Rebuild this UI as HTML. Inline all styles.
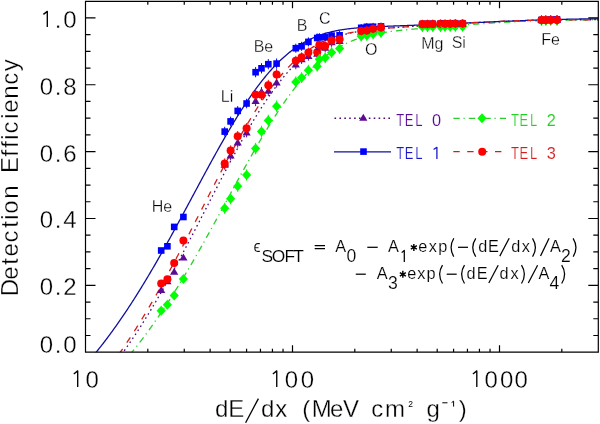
<!DOCTYPE html><html><head><meta charset="utf-8"><style>html,body{margin:0;padding:0;background:#fff;}svg{display:block;will-change:transform}</style></head><body><svg width="600" height="424" viewBox="0 0 600 424"><rect width="600" height="424" fill="#fff"/><clipPath id="cp"><rect x="85.5" y="1.3" width="512.8" height="350.9"/></clipPath><g clip-path="url(#cp)" fill="none" stroke-width="1.3"><path d="M121.46,354.66 L122.31,353.47 L123.17,352.28 L124.02,351.07 L124.88,349.86 L125.74,348.64 L126.59,347.42 L127.45,346.19 L128.30,344.95 L129.16,343.70 L130.02,342.45 L130.87,341.19 L131.73,339.93 L132.59,338.65 L133.44,337.37 L134.30,336.09 L135.15,334.79 L136.01,333.49 L136.87,332.19 L137.72,330.87 L138.58,329.55 L139.43,328.23 L140.29,326.89 L141.15,325.55 L142.00,324.20 L142.86,322.85 L143.71,321.49 L144.57,320.12 L145.43,318.75 L146.28,317.37 L147.14,315.98 L147.99,314.59 L148.85,313.19 L149.71,311.79 L150.56,310.37 L151.42,308.96 L152.28,307.53 L153.13,306.10 L153.99,304.66 L154.84,303.22 L155.70,301.77 L156.56,300.32 L157.41,298.86 L158.27,297.39 L159.12,295.92 L159.98,294.44 L160.84,292.95 L161.69,291.46 L162.55,289.97 L163.40,288.47 L164.26,286.96 L165.12,285.45 L165.97,283.93 L166.83,282.41 L167.68,280.88 L168.54,279.34 L169.40,277.81 L170.25,276.26 L171.11,274.71 L171.97,273.16 L172.82,271.60 L173.68,270.04 L174.53,268.47 L175.39,266.90 L176.25,265.32 L177.10,263.74 L177.96,262.16 L178.81,260.57 L179.67,258.97 L180.53,257.38 L181.38,255.78 L182.24,254.17 L183.09,252.56 L183.95,250.95 L184.81,249.33 L185.66,247.71 L186.52,246.09 L187.38,244.47 L188.23,242.84 L189.09,241.21 L189.94,239.57 L190.80,237.93 L191.66,236.29 L192.51,234.65 L193.37,233.01 L194.22,231.36 L195.08,229.71 L195.94,228.06 L196.79,226.41 L197.65,224.75 L198.50,223.10 L199.36,221.44 L200.22,219.78 L201.07,218.12 L201.93,216.46 L202.78,214.80 L203.64,213.13 L204.50,211.47 L205.35,209.81 L206.21,208.14 L207.07,206.48 L207.92,204.81 L208.78,203.15 L209.63,201.48 L210.49,199.82 L211.35,198.16 L212.20,196.49 L213.06,194.83 L213.91,193.17 L214.77,191.51 L215.63,189.86 L216.48,188.20 L217.34,186.55 L218.19,184.89 L219.05,183.24 L219.91,181.59 L220.76,179.95 L221.62,178.30 L222.47,176.66 L223.33,175.02 L224.19,173.39 L225.04,171.76 L225.90,170.13 L226.76,168.50 L227.61,166.88 L228.47,165.27 L229.32,163.65 L230.18,162.04 L231.04,160.44 L231.89,158.84 L232.75,157.24 L233.60,155.65 L234.46,154.07 L235.32,152.49 L236.17,150.91 L237.03,149.34 L237.88,147.78 L238.74,146.22 L239.60,144.67 L240.45,143.13 L241.31,141.59 L242.17,140.06 L243.02,138.53 L243.88,137.02 L244.73,135.51 L245.59,134.00 L246.45,132.51 L247.30,131.02 L248.16,129.54 L249.01,128.07 L249.87,126.60 L250.73,125.15 L251.58,123.70 L252.44,122.26 L253.29,120.83 L254.15,119.41 L255.01,118.00 L255.86,116.60 L256.72,115.20 L257.57,113.82 L258.43,112.45 L259.29,111.08 L260.14,109.73 L261.00,108.39 L261.86,107.05 L262.71,105.73 L263.57,104.42 L264.42,103.12 L265.28,101.83 L266.14,100.55 L266.99,99.28 L267.85,98.02 L268.70,96.77 L269.56,95.54 L270.42,94.31 L271.27,93.10 L272.13,91.90 L272.98,90.71 L273.84,89.54 L274.70,88.37 L275.55,87.22 L276.41,86.08 L277.26,84.95 L278.12,83.83 L278.98,82.73 L279.83,81.64 L280.69,80.56 L281.55,79.50 L282.40,78.44 L283.26,77.40 L284.11,76.37 L284.97,75.36 L285.83,74.36 L286.68,73.37 L287.54,72.39 L288.39,71.43 L289.25,70.48 L290.11,69.54 L290.96,68.62 L291.82,67.71 L292.67,66.81 L293.53,65.92 L294.39,65.05 L295.24,64.19 L296.10,63.34 L296.96,62.51 L297.81,61.69 L298.67,60.88 L299.52,60.09 L300.38,59.31 L301.24,58.54 L302.09,57.78 L302.95,57.04 L303.80,56.31 L304.66,55.59 L305.52,54.89 L306.37,54.20 L307.23,53.52 L308.08,52.85 L308.94,52.20 L309.80,51.55 L310.65,50.92 L311.51,50.31 L312.36,49.70 L313.22,49.11 L314.08,48.52 L314.93,47.95 L315.79,47.39 L316.65,46.85 L317.50,46.31 L318.36,45.79 L319.21,45.27 L320.07,44.77 L320.93,44.28 L321.78,43.80 L322.64,43.33 L323.49,42.87 L324.35,42.42 L325.21,41.99 L326.06,41.56 L326.92,41.14 L327.77,40.73 L328.63,40.34 L329.49,39.95 L330.34,39.57 L331.20,39.20 L332.05,38.84 L332.91,38.49 L333.77,38.15 L334.62,37.81 L335.48,37.49 L336.34,37.17 L337.19,36.86 L338.05,36.56 L338.90,36.27 L339.76,35.99 L340.62,35.71 L341.47,35.44 L342.33,35.18 L343.18,34.93 L344.04,34.68 L344.90,34.44 L345.75,34.20 L346.61,33.98 L347.46,33.76 L348.32,33.54 L349.18,33.33 L350.03,33.13 L350.89,32.93 L351.75,32.74 L352.60,32.56 L353.46,32.38 L354.31,32.20 L355.17,32.03 L356.03,31.87 L356.88,31.71 L357.74,31.55 L358.59,31.40 L359.45,31.25 L360.31,31.11 L361.16,30.97 L362.02,30.84 L362.87,30.70 L363.73,30.58 L364.59,30.45 L365.44,30.33 L366.30,30.22 L367.15,30.10 L368.01,29.99 L368.87,29.88 L369.72,29.78 L370.58,29.68 L371.44,29.58 L372.29,29.48 L373.15,29.38 L374.00,29.29 L374.86,29.20 L375.72,29.11 L376.57,29.03 L377.43,28.94 L378.28,28.86 L379.14,28.78 L380.00,28.70 L380.85,28.62 L381.71,28.55 L382.56,28.47 L383.42,28.40 L384.28,28.33 L385.13,28.26 L385.99,28.19 L386.84,28.12 L387.70,28.05 L388.56,27.99 L389.41,27.92 L390.27,27.86 L391.13,27.79 L391.98,27.73 L392.84,27.67 L393.69,27.61 L394.55,27.55 L395.41,27.49 L396.26,27.43 L397.12,27.37 L397.97,27.31 L398.83,27.25 L399.69,27.19 L400.54,27.14 L401.40,27.08 L402.25,27.02 L403.11,26.97 L403.97,26.91 L404.82,26.86 L405.68,26.80 L406.54,26.75 L407.39,26.69 L408.25,26.64 L409.10,26.58 L409.96,26.53 L410.82,26.47 L411.67,26.42 L412.53,26.36 L413.38,26.31 L414.24,26.26 L415.10,26.20 L415.95,26.15 L416.81,26.10 L417.66,26.04 L418.52,25.99 L419.38,25.93 L420.23,25.88 L421.09,25.83 L421.94,25.77 L422.80,25.72 L423.66,25.67 L424.51,25.61 L425.37,25.56 L426.23,25.51 L427.08,25.46 L427.94,25.40 L428.79,25.35 L429.65,25.30 L430.51,25.24 L431.36,25.19 L432.22,25.14 L433.07,25.08 L433.93,25.03 L434.79,24.98 L435.64,24.93 L436.50,24.87 L437.35,24.82 L438.21,24.77 L439.07,24.71 L439.92,24.66 L440.78,24.61 L441.63,24.56 L442.49,24.50 L443.35,24.45 L444.20,24.40 L445.06,24.35 L445.92,24.30 L446.77,24.24 L447.63,24.19 L448.48,24.14 L449.34,24.09 L450.20,24.04 L451.05,23.99 L451.91,23.93 L452.76,23.88 L453.62,23.83 L454.48,23.78 L455.33,23.73 L456.19,23.68 L457.04,23.63 L457.90,23.58 L458.76,23.53 L459.61,23.48 L460.47,23.43 L461.33,23.38 L462.18,23.33 L463.04,23.28 L463.89,23.23 L464.75,23.18 L465.61,23.14 L466.46,23.09 L467.32,23.04 L468.17,22.99 L469.03,22.94 L469.89,22.90 L470.74,22.85 L471.60,22.80 L472.45,22.76 L473.31,22.71 L474.17,22.66 L475.02,22.62 L475.88,22.57 L476.73,22.53 L477.59,22.48 L478.45,22.44 L479.30,22.39 L480.16,22.35 L481.02,22.31 L481.87,22.26 L482.73,22.22 L483.58,22.18 L484.44,22.13 L485.30,22.09 L486.15,22.05 L487.01,22.01 L487.86,21.97 L488.72,21.93 L489.58,21.89 L490.43,21.85 L491.29,21.81 L492.14,21.77 L493.00,21.73 L493.86,21.69 L494.71,21.65 L495.57,21.61 L496.42,21.58 L497.28,21.54 L498.14,21.50 L498.99,21.47 L499.85,21.43 L500.71,21.39 L501.56,21.36 L502.42,21.32 L503.27,21.29 L504.13,21.26 L504.99,21.22 L505.84,21.19 L506.70,21.16 L507.55,21.12 L508.41,21.09 L509.27,21.06 L510.12,21.03 L510.98,21.00 L511.83,20.97 L512.69,20.94 L513.55,20.91 L514.40,20.88 L515.26,20.85 L516.12,20.82 L516.97,20.80 L517.83,20.77 L518.68,20.74 L519.54,20.72 L520.40,20.69 L521.25,20.66 L522.11,20.64 L522.96,20.61 L523.82,20.59 L524.68,20.57 L525.53,20.54 L526.39,20.52 L527.24,20.50 L528.10,20.47 L528.96,20.45 L529.81,20.43 L530.67,20.41 L531.52,20.39 L532.38,20.37 L533.24,20.35 L534.09,20.33 L534.95,20.31 L535.81,20.29 L536.66,20.27 L537.52,20.26 L538.37,20.24 L539.23,20.22 L540.09,20.20 L540.94,20.19 L541.80,20.17 L542.65,20.16 L543.51,20.14 L544.37,20.13 L545.22,20.11 L546.08,20.10 L546.93,20.08 L547.79,20.07 L548.65,20.06 L549.50,20.04 L550.36,20.03 L551.21,20.02 L552.07,20.01 L552.93,20.00 L553.78,19.99 L554.64,19.97 L555.50,19.96 L556.35,19.95 L557.21,19.94 L558.06,19.93 L558.92,19.92 L559.78,19.92 L560.63,19.91 L561.49,19.90 L562.34,19.89 L563.20,19.88 L564.06,19.87 L564.91,19.87 L565.77,19.86 L566.62,19.85 L567.48,19.84 L568.34,19.84 L569.19,19.83 L570.05,19.83 L570.91,19.82 L571.76,19.81 L572.62,19.81 L573.47,19.80 L574.33,19.80 L575.19,19.79 L576.04,19.79 L576.90,19.78 L577.75,19.78 L578.61,19.77 L579.47,19.77 L580.32,19.77 L581.18,19.76 L582.03,19.76 L582.89,19.76 L583.75,19.75 L584.60,19.75 L585.46,19.75 L586.31,19.74 L587.17,19.74 L588.03,19.74 L588.88,19.74 L589.74,19.73 L590.60,19.73 L591.45,19.73 L592.31,19.73 L593.16,19.72 L594.02,19.72 L594.88,19.72 L595.73,19.72 L596.59,19.72 L597.44,19.72 L598.30,19.71" stroke="#4a0a7a" stroke-dasharray="1.6,3.2"/><path d="M130.02,354.54 L130.87,353.50 L131.73,352.46 L132.59,351.41 L133.44,350.35 L134.30,349.28 L135.15,348.21 L136.01,347.14 L136.87,346.05 L137.72,344.96 L138.58,343.86 L139.43,342.76 L140.29,341.65 L141.15,340.53 L142.00,339.41 L142.86,338.28 L143.71,337.14 L144.57,336.00 L145.43,334.85 L146.28,333.69 L147.14,332.53 L147.99,331.36 L148.85,330.19 L149.71,329.00 L150.56,327.82 L151.42,326.62 L152.28,325.42 L153.13,324.21 L153.99,323.00 L154.84,321.77 L155.70,320.55 L156.56,319.31 L157.41,318.07 L158.27,316.83 L159.12,315.57 L159.98,314.31 L160.84,313.05 L161.69,311.77 L162.55,310.50 L163.40,309.21 L164.26,307.92 L165.12,306.62 L165.97,305.32 L166.83,304.01 L167.68,302.70 L168.54,301.37 L169.40,300.05 L170.25,298.71 L171.11,297.37 L171.97,296.03 L172.82,294.68 L173.68,293.32 L174.53,291.96 L175.39,290.59 L176.25,289.21 L177.10,287.83 L177.96,286.45 L178.81,285.06 L179.67,283.66 L180.53,282.26 L181.38,280.85 L182.24,279.44 L183.09,278.02 L183.95,276.60 L184.81,275.17 L185.66,273.73 L186.52,272.29 L187.38,270.85 L188.23,269.40 L189.09,267.95 L189.94,266.49 L190.80,265.03 L191.66,263.56 L192.51,262.09 L193.37,260.61 L194.22,259.13 L195.08,257.64 L195.94,256.16 L196.79,254.66 L197.65,253.16 L198.50,251.66 L199.36,250.16 L200.22,248.65 L201.07,247.13 L201.93,245.62 L202.78,244.10 L203.64,242.57 L204.50,241.04 L205.35,239.51 L206.21,237.98 L207.07,236.44 L207.92,234.90 L208.78,233.36 L209.63,231.82 L210.49,230.27 L211.35,228.72 L212.20,227.17 L213.06,225.61 L213.91,224.05 L214.77,222.50 L215.63,220.93 L216.48,219.37 L217.34,217.81 L218.19,216.24 L219.05,214.67 L219.91,213.11 L220.76,211.54 L221.62,209.96 L222.47,208.39 L223.33,206.82 L224.19,205.25 L225.04,203.67 L225.90,202.10 L226.76,200.52 L227.61,198.95 L228.47,197.38 L229.32,195.80 L230.18,194.23 L231.04,192.65 L231.89,191.08 L232.75,189.51 L233.60,187.94 L234.46,186.37 L235.32,184.80 L236.17,183.23 L237.03,181.67 L237.88,180.10 L238.74,178.54 L239.60,176.98 L240.45,175.42 L241.31,173.87 L242.17,172.31 L243.02,170.76 L243.88,169.22 L244.73,167.67 L245.59,166.13 L246.45,164.59 L247.30,163.06 L248.16,161.52 L249.01,160.00 L249.87,158.47 L250.73,156.95 L251.58,155.44 L252.44,153.93 L253.29,152.42 L254.15,150.92 L255.01,149.42 L255.86,147.93 L256.72,146.44 L257.57,144.96 L258.43,143.49 L259.29,142.02 L260.14,140.55 L261.00,139.09 L261.86,137.64 L262.71,136.20 L263.57,134.76 L264.42,133.33 L265.28,131.90 L266.14,130.48 L266.99,129.07 L267.85,127.67 L268.70,126.27 L269.56,124.88 L270.42,123.50 L271.27,122.13 L272.13,120.77 L272.98,119.41 L273.84,118.06 L274.70,116.72 L275.55,115.39 L276.41,114.07 L277.26,112.75 L278.12,111.45 L278.98,110.16 L279.83,108.87 L280.69,107.59 L281.55,106.33 L282.40,105.07 L283.26,103.82 L284.11,102.59 L284.97,101.36 L285.83,100.14 L286.68,98.94 L287.54,97.74 L288.39,96.56 L289.25,95.38 L290.11,94.22 L290.96,93.06 L291.82,91.92 L292.67,90.79 L293.53,89.67 L294.39,88.56 L295.24,87.46 L296.10,86.38 L296.96,85.30 L297.81,84.24 L298.67,83.19 L299.52,82.15 L300.38,81.12 L301.24,80.11 L302.09,79.10 L302.95,78.11 L303.80,77.13 L304.66,76.16 L305.52,75.20 L306.37,74.26 L307.23,73.33 L308.08,72.41 L308.94,71.50 L309.80,70.60 L310.65,69.72 L311.51,68.85 L312.36,67.99 L313.22,67.14 L314.08,66.31 L314.93,65.49 L315.79,64.68 L316.65,63.88 L317.50,63.09 L318.36,62.32 L319.21,61.56 L320.07,60.81 L320.93,60.07 L321.78,59.34 L322.64,58.63 L323.49,57.93 L324.35,57.24 L325.21,56.56 L326.06,55.89 L326.92,55.24 L327.77,54.60 L328.63,53.97 L329.49,53.35 L330.34,52.74 L331.20,52.14 L332.05,51.56 L332.91,50.98 L333.77,50.42 L334.62,49.87 L335.48,49.33 L336.34,48.80 L337.19,48.28 L338.05,47.77 L338.90,47.27 L339.76,46.78 L340.62,46.30 L341.47,45.84 L342.33,45.38 L343.18,44.93 L344.04,44.49 L344.90,44.07 L345.75,43.65 L346.61,43.24 L347.46,42.84 L348.32,42.45 L349.18,42.07 L350.03,41.69 L350.89,41.33 L351.75,40.98 L352.60,40.63 L353.46,40.29 L354.31,39.96 L355.17,39.64 L356.03,39.32 L356.88,39.02 L357.74,38.72 L358.59,38.43 L359.45,38.14 L360.31,37.87 L361.16,37.60 L362.02,37.33 L362.87,37.08 L363.73,36.83 L364.59,36.58 L365.44,36.35 L366.30,36.12 L367.15,35.89 L368.01,35.67 L368.87,35.46 L369.72,35.25 L370.58,35.05 L371.44,34.85 L372.29,34.66 L373.15,34.47 L374.00,34.29 L374.86,34.11 L375.72,33.94 L376.57,33.77 L377.43,33.61 L378.28,33.45 L379.14,33.29 L380.00,33.14 L380.85,32.99 L381.71,32.84 L382.56,32.70 L383.42,32.56 L384.28,32.43 L385.13,32.30 L385.99,32.17 L386.84,32.05 L387.70,31.92 L388.56,31.80 L389.41,31.69 L390.27,31.57 L391.13,31.46 L391.98,31.35 L392.84,31.24 L393.69,31.14 L394.55,31.03 L395.41,30.93 L396.26,30.83 L397.12,30.73 L397.97,30.64 L398.83,30.54 L399.69,30.45 L400.54,30.36 L401.40,30.27 L402.25,30.18 L403.11,30.09 L403.97,30.01 L404.82,29.92 L405.68,29.84 L406.54,29.75 L407.39,29.67 L408.25,29.59 L409.10,29.51 L409.96,29.43 L410.82,29.35 L411.67,29.27 L412.53,29.20 L413.38,29.12 L414.24,29.04 L415.10,28.97 L415.95,28.89 L416.81,28.82 L417.66,28.75 L418.52,28.67 L419.38,28.60 L420.23,28.53 L421.09,28.45 L421.94,28.38 L422.80,28.31 L423.66,28.24 L424.51,28.17 L425.37,28.10 L426.23,28.03 L427.08,27.95 L427.94,27.88 L428.79,27.81 L429.65,27.74 L430.51,27.67 L431.36,27.60 L432.22,27.53 L433.07,27.46 L433.93,27.40 L434.79,27.33 L435.64,27.26 L436.50,27.19 L437.35,27.12 L438.21,27.05 L439.07,26.98 L439.92,26.91 L440.78,26.84 L441.63,26.78 L442.49,26.71 L443.35,26.64 L444.20,26.57 L445.06,26.50 L445.92,26.43 L446.77,26.37 L447.63,26.30 L448.48,26.23 L449.34,26.16 L450.20,26.09 L451.05,26.03 L451.91,25.96 L452.76,25.89 L453.62,25.83 L454.48,25.76 L455.33,25.69 L456.19,25.62 L457.04,25.56 L457.90,25.49 L458.76,25.42 L459.61,25.36 L460.47,25.29 L461.33,25.23 L462.18,25.16 L463.04,25.10 L463.89,25.03 L464.75,24.96 L465.61,24.90 L466.46,24.83 L467.32,24.77 L468.17,24.71 L469.03,24.64 L469.89,24.58 L470.74,24.51 L471.60,24.45 L472.45,24.39 L473.31,24.32 L474.17,24.26 L475.02,24.20 L475.88,24.14 L476.73,24.08 L477.59,24.01 L478.45,23.95 L479.30,23.89 L480.16,23.83 L481.02,23.77 L481.87,23.71 L482.73,23.65 L483.58,23.59 L484.44,23.53 L485.30,23.47 L486.15,23.42 L487.01,23.36 L487.86,23.30 L488.72,23.24 L489.58,23.19 L490.43,23.13 L491.29,23.07 L492.14,23.02 L493.00,22.96 L493.86,22.91 L494.71,22.85 L495.57,22.80 L496.42,22.75 L497.28,22.69 L498.14,22.64 L498.99,22.59 L499.85,22.54 L500.71,22.49 L501.56,22.44 L502.42,22.39 L503.27,22.34 L504.13,22.29 L504.99,22.24 L505.84,22.19 L506.70,22.14 L507.55,22.09 L508.41,22.05 L509.27,22.00 L510.12,21.95 L510.98,21.91 L511.83,21.86 L512.69,21.82 L513.55,21.78 L514.40,21.73 L515.26,21.69 L516.12,21.65 L516.97,21.61 L517.83,21.56 L518.68,21.52 L519.54,21.48 L520.40,21.44 L521.25,21.41 L522.11,21.37 L522.96,21.33 L523.82,21.29 L524.68,21.25 L525.53,21.22 L526.39,21.18 L527.24,21.15 L528.10,21.11 L528.96,21.08 L529.81,21.04 L530.67,21.01 L531.52,20.98 L532.38,20.95 L533.24,20.91 L534.09,20.88 L534.95,20.85 L535.81,20.82 L536.66,20.79 L537.52,20.76 L538.37,20.74 L539.23,20.71 L540.09,20.68 L540.94,20.65 L541.80,20.63 L542.65,20.60 L543.51,20.58 L544.37,20.55 L545.22,20.53 L546.08,20.50 L546.93,20.48 L547.79,20.46 L548.65,20.44 L549.50,20.42 L550.36,20.39 L551.21,20.37 L552.07,20.35 L552.93,20.33 L553.78,20.31 L554.64,20.29 L555.50,20.28 L556.35,20.26 L557.21,20.24 L558.06,20.22 L558.92,20.21 L559.78,20.19 L560.63,20.17 L561.49,20.16 L562.34,20.14 L563.20,20.13 L564.06,20.12 L564.91,20.10 L565.77,20.09 L566.62,20.08 L567.48,20.06 L568.34,20.05 L569.19,20.04 L570.05,20.03 L570.91,20.02 L571.76,20.00 L572.62,19.99 L573.47,19.98 L574.33,19.97 L575.19,19.96 L576.04,19.96 L576.90,19.95 L577.75,19.94 L578.61,19.93 L579.47,19.92 L580.32,19.91 L581.18,19.91 L582.03,19.90 L582.89,19.89 L583.75,19.88 L584.60,19.88 L585.46,19.87 L586.31,19.87 L587.17,19.86 L588.03,19.85 L588.88,19.85 L589.74,19.84 L590.60,19.84 L591.45,19.83 L592.31,19.83 L593.16,19.83 L594.02,19.82 L594.88,19.82 L595.73,19.81 L596.59,19.81 L597.44,19.81 L598.30,19.80" stroke="#2cd02c" stroke-dasharray="6.4,3.8,1.2,4.1"/><path d="M94.06,354.80 L94.92,353.76 L95.77,352.71 L96.63,351.66 L97.49,350.59 L98.34,349.53 L99.20,348.45 L100.05,347.37 L100.91,346.29 L101.77,345.19 L102.62,344.09 L103.48,342.98 L104.33,341.87 L105.19,340.75 L106.05,339.62 L106.90,338.49 L107.76,337.35 L108.61,336.20 L109.47,335.05 L110.33,333.89 L111.18,332.72 L112.04,331.55 L112.89,330.37 L113.75,329.18 L114.61,327.99 L115.46,326.79 L116.32,325.58 L117.18,324.37 L118.03,323.15 L118.89,321.92 L119.74,320.69 L120.60,319.45 L121.46,318.20 L122.31,316.95 L123.17,315.69 L124.02,314.43 L124.88,313.15 L125.74,311.88 L126.59,310.59 L127.45,309.30 L128.30,308.00 L129.16,306.70 L130.02,305.39 L130.87,304.07 L131.73,302.75 L132.59,301.42 L133.44,300.09 L134.30,298.74 L135.15,297.40 L136.01,296.04 L136.87,294.68 L137.72,293.32 L138.58,291.95 L139.43,290.57 L140.29,289.19 L141.15,287.80 L142.00,286.40 L142.86,285.00 L143.71,283.60 L144.57,282.18 L145.43,280.77 L146.28,279.34 L147.14,277.91 L147.99,276.48 L148.85,275.04 L149.71,273.60 L150.56,272.15 L151.42,270.69 L152.28,269.23 L153.13,267.77 L153.99,266.30 L154.84,264.82 L155.70,263.34 L156.56,261.86 L157.41,260.37 L158.27,258.87 L159.12,257.38 L159.98,255.87 L160.84,254.37 L161.69,252.85 L162.55,251.34 L163.40,249.82 L164.26,248.29 L165.12,246.77 L165.97,245.23 L166.83,243.70 L167.68,242.16 L168.54,240.62 L169.40,239.07 L170.25,237.52 L171.11,235.97 L171.97,234.41 L172.82,232.85 L173.68,231.29 L174.53,229.73 L175.39,228.16 L176.25,226.59 L177.10,225.02 L177.96,223.44 L178.81,221.86 L179.67,220.28 L180.53,218.70 L181.38,217.12 L182.24,215.53 L183.09,213.95 L183.95,212.36 L184.81,210.77 L185.66,209.18 L186.52,207.59 L187.38,205.99 L188.23,204.40 L189.09,202.80 L189.94,201.21 L190.80,199.61 L191.66,198.02 L192.51,196.42 L193.37,194.82 L194.22,193.23 L195.08,191.63 L195.94,190.03 L196.79,188.44 L197.65,186.84 L198.50,185.25 L199.36,183.66 L200.22,182.07 L201.07,180.48 L201.93,178.89 L202.78,177.30 L203.64,175.72 L204.50,174.13 L205.35,172.55 L206.21,170.97 L207.07,169.39 L207.92,167.82 L208.78,166.25 L209.63,164.68 L210.49,163.12 L211.35,161.55 L212.20,159.99 L213.06,158.44 L213.91,156.89 L214.77,155.34 L215.63,153.80 L216.48,152.26 L217.34,150.72 L218.19,149.19 L219.05,147.67 L219.91,146.15 L220.76,144.63 L221.62,143.12 L222.47,141.62 L223.33,140.12 L224.19,138.62 L225.04,137.13 L225.90,135.65 L226.76,134.18 L227.61,132.71 L228.47,131.25 L229.32,129.79 L230.18,128.34 L231.04,126.90 L231.89,125.47 L232.75,124.04 L233.60,122.62 L234.46,121.21 L235.32,119.80 L236.17,118.41 L237.03,117.02 L237.88,115.64 L238.74,114.27 L239.60,112.91 L240.45,111.55 L241.31,110.21 L242.17,108.87 L243.02,107.55 L243.88,106.23 L244.73,104.92 L245.59,103.63 L246.45,102.34 L247.30,101.06 L248.16,99.79 L249.01,98.54 L249.87,97.29 L250.73,96.05 L251.58,94.82 L252.44,93.61 L253.29,92.40 L254.15,91.21 L255.01,90.03 L255.86,88.85 L256.72,87.69 L257.57,86.54 L258.43,85.40 L259.29,84.28 L260.14,83.16 L261.00,82.06 L261.86,80.97 L262.71,79.89 L263.57,78.82 L264.42,77.76 L265.28,76.72 L266.14,75.69 L266.99,74.67 L267.85,73.66 L268.70,72.67 L269.56,71.68 L270.42,70.71 L271.27,69.76 L272.13,68.81 L272.98,67.88 L273.84,66.96 L274.70,66.05 L275.55,65.16 L276.41,64.27 L277.26,63.40 L278.12,62.55 L278.98,61.70 L279.83,60.87 L280.69,60.05 L281.55,59.24 L282.40,58.45 L283.26,57.67 L284.11,56.90 L284.97,56.14 L285.83,55.40 L286.68,54.67 L287.54,53.95 L288.39,53.24 L289.25,52.55 L290.11,51.87 L290.96,51.20 L291.82,50.54 L292.67,49.90 L293.53,49.26 L294.39,48.64 L295.24,48.03 L296.10,47.44 L296.96,46.85 L297.81,46.28 L298.67,45.72 L299.52,45.17 L300.38,44.63 L301.24,44.10 L302.09,43.59 L302.95,43.08 L303.80,42.59 L304.66,42.11 L305.52,41.63 L306.37,41.17 L307.23,40.72 L308.08,40.28 L308.94,39.85 L309.80,39.43 L310.65,39.02 L311.51,38.62 L312.36,38.23 L313.22,37.85 L314.08,37.48 L314.93,37.12 L315.79,36.77 L316.65,36.43 L317.50,36.10 L318.36,35.77 L319.21,35.46 L320.07,35.15 L320.93,34.85 L321.78,34.56 L322.64,34.28 L323.49,34.00 L324.35,33.74 L325.21,33.48 L326.06,33.23 L326.92,32.98 L327.77,32.75 L328.63,32.52 L329.49,32.30 L330.34,32.08 L331.20,31.87 L332.05,31.67 L332.91,31.47 L333.77,31.28 L334.62,31.10 L335.48,30.92 L336.34,30.75 L337.19,30.58 L338.05,30.42 L338.90,30.26 L339.76,30.11 L340.62,29.96 L341.47,29.82 L342.33,29.69 L343.18,29.55 L344.04,29.43 L344.90,29.30 L345.75,29.18 L346.61,29.07 L347.46,28.96 L348.32,28.85 L349.18,28.75 L350.03,28.65 L350.89,28.55 L351.75,28.46 L352.60,28.37 L353.46,28.28 L354.31,28.19 L355.17,28.11 L356.03,28.03 L356.88,27.96 L357.74,27.88 L358.59,27.81 L359.45,27.74 L360.31,27.68 L361.16,27.61 L362.02,27.55 L362.87,27.49 L363.73,27.43 L364.59,27.37 L365.44,27.32 L366.30,27.26 L367.15,27.21 L368.01,27.16 L368.87,27.11 L369.72,27.06 L370.58,27.01 L371.44,26.97 L372.29,26.92 L373.15,26.88 L374.00,26.84 L374.86,26.79 L375.72,26.75 L376.57,26.71 L377.43,26.67 L378.28,26.64 L379.14,26.60 L380.00,26.56 L380.85,26.52 L381.71,26.49 L382.56,26.45 L383.42,26.42 L384.28,26.38 L385.13,26.35 L385.99,26.31 L386.84,26.28 L387.70,26.25 L388.56,26.21 L389.41,26.18 L390.27,26.15 L391.13,26.12 L391.98,26.08 L392.84,26.05 L393.69,26.02 L394.55,25.99 L395.41,25.96 L396.26,25.92 L397.12,25.89 L397.97,25.86 L398.83,25.83 L399.69,25.80 L400.54,25.77 L401.40,25.73 L402.25,25.70 L403.11,25.67 L403.97,25.64 L404.82,25.61 L405.68,25.58 L406.54,25.54 L407.39,25.51 L408.25,25.48 L409.10,25.45 L409.96,25.42 L410.82,25.38 L411.67,25.35 L412.53,25.32 L413.38,25.29 L414.24,25.25 L415.10,25.22 L415.95,25.19 L416.81,25.16 L417.66,25.12 L418.52,25.09 L419.38,25.06 L420.23,25.02 L421.09,24.99 L421.94,24.96 L422.80,24.92 L423.66,24.89 L424.51,24.85 L425.37,24.82 L426.23,24.79 L427.08,24.75 L427.94,24.72 L428.79,24.68 L429.65,24.65 L430.51,24.61 L431.36,24.58 L432.22,24.54 L433.07,24.51 L433.93,24.47 L434.79,24.44 L435.64,24.40 L436.50,24.36 L437.35,24.33 L438.21,24.29 L439.07,24.26 L439.92,24.22 L440.78,24.18 L441.63,24.15 L442.49,24.11 L443.35,24.07 L444.20,24.04 L445.06,24.00 L445.92,23.96 L446.77,23.93 L447.63,23.89 L448.48,23.85 L449.34,23.81 L450.20,23.78 L451.05,23.74 L451.91,23.70 L452.76,23.66 L453.62,23.63 L454.48,23.59 L455.33,23.55 L456.19,23.51 L457.04,23.47 L457.90,23.44 L458.76,23.40 L459.61,23.36 L460.47,23.32 L461.33,23.28 L462.18,23.24 L463.04,23.20 L463.89,23.17 L464.75,23.13 L465.61,23.09 L466.46,23.05 L467.32,23.01 L468.17,22.97 L469.03,22.93 L469.89,22.90 L470.74,22.86 L471.60,22.82 L472.45,22.78 L473.31,22.74 L474.17,22.70 L475.02,22.66 L475.88,22.62 L476.73,22.58 L477.59,22.55 L478.45,22.51 L479.30,22.47 L480.16,22.43 L481.02,22.39 L481.87,22.35 L482.73,22.31 L483.58,22.27 L484.44,22.23 L485.30,22.20 L486.15,22.16 L487.01,22.12 L487.86,22.08 L488.72,22.04 L489.58,22.00 L490.43,21.96 L491.29,21.93 L492.14,21.89 L493.00,21.85 L493.86,21.81 L494.71,21.77 L495.57,21.74 L496.42,21.70 L497.28,21.66 L498.14,21.62 L498.99,21.59 L499.85,21.55 L500.71,21.51 L501.56,21.47 L502.42,21.44 L503.27,21.40 L504.13,21.36 L504.99,21.33 L505.84,21.29 L506.70,21.25 L507.55,21.22 L508.41,21.18 L509.27,21.14 L510.12,21.11 L510.98,21.07 L511.83,21.04 L512.69,21.00 L513.55,20.97 L514.40,20.93 L515.26,20.90 L516.12,20.86 L516.97,20.83 L517.83,20.79 L518.68,20.76 L519.54,20.73 L520.40,20.69 L521.25,20.66 L522.11,20.62 L522.96,20.59 L523.82,20.56 L524.68,20.53 L525.53,20.49 L526.39,20.46 L527.24,20.43 L528.10,20.40 L528.96,20.37 L529.81,20.34 L530.67,20.30 L531.52,20.27 L532.38,20.24 L533.24,20.21 L534.09,20.18 L534.95,20.15 L535.81,20.12 L536.66,20.10 L537.52,20.07 L538.37,20.04 L539.23,20.01 L540.09,19.98 L540.94,19.95 L541.80,19.93 L542.65,19.90 L543.51,19.87 L544.37,19.85 L545.22,19.82 L546.08,19.79 L546.93,19.77 L547.79,19.74 L548.65,19.72 L549.50,19.69 L550.36,19.67 L551.21,19.64 L552.07,19.62 L552.93,19.60 L553.78,19.57 L554.64,19.55 L555.50,19.53 L556.35,19.50 L557.21,19.48 L558.06,19.46 L558.92,19.44 L559.78,19.42 L560.63,19.40 L561.49,19.38 L562.34,19.36 L563.20,19.34 L564.06,19.32 L564.91,19.30 L565.77,19.28 L566.62,19.26 L567.48,19.24 L568.34,19.22 L569.19,19.20 L570.05,19.19 L570.91,19.17 L571.76,19.15 L572.62,19.14 L573.47,19.12 L574.33,19.10 L575.19,19.09 L576.04,19.07 L576.90,19.06 L577.75,19.04 L578.61,19.03 L579.47,19.01 L580.32,19.00 L581.18,18.99 L582.03,18.97 L582.89,18.96 L583.75,18.95 L584.60,18.94 L585.46,18.92 L586.31,18.91 L587.17,18.90 L588.03,18.89 L588.88,18.88 L589.74,18.87 L590.60,18.86 L591.45,18.85 L592.31,18.84 L593.16,18.83 L594.02,18.82 L594.88,18.81 L595.73,18.80 L596.59,18.79 L597.44,18.78 L598.30,18.77" stroke="#10109c"/><path d="M118.89,354.18 L119.74,352.97 L120.60,351.74 L121.46,350.51 L122.31,349.28 L123.17,348.03 L124.02,346.78 L124.88,345.52 L125.74,344.26 L126.59,342.99 L127.45,341.71 L128.30,340.42 L129.16,339.13 L130.02,337.83 L130.87,336.53 L131.73,335.21 L132.59,333.89 L133.44,332.57 L134.30,331.23 L135.15,329.89 L136.01,328.55 L136.87,327.19 L137.72,325.83 L138.58,324.47 L139.43,323.09 L140.29,321.71 L141.15,320.33 L142.00,318.93 L142.86,317.53 L143.71,316.13 L144.57,314.71 L145.43,313.30 L146.28,311.87 L147.14,310.44 L147.99,309.00 L148.85,307.56 L149.71,306.11 L150.56,304.65 L151.42,303.19 L152.28,301.72 L153.13,300.25 L153.99,298.77 L154.84,297.28 L155.70,295.79 L156.56,294.29 L157.41,292.79 L158.27,291.28 L159.12,289.77 L159.98,288.25 L160.84,286.72 L161.69,285.19 L162.55,283.66 L163.40,282.11 L164.26,280.57 L165.12,279.02 L165.97,277.46 L166.83,275.90 L167.68,274.33 L168.54,272.76 L169.40,271.19 L170.25,269.61 L171.11,268.02 L171.97,266.43 L172.82,264.84 L173.68,263.24 L174.53,261.64 L175.39,260.04 L176.25,258.43 L177.10,256.81 L177.96,255.19 L178.81,253.57 L179.67,251.95 L180.53,250.32 L181.38,248.69 L182.24,247.06 L183.09,245.42 L183.95,243.78 L184.81,242.13 L185.66,240.49 L186.52,238.84 L187.38,237.19 L188.23,235.53 L189.09,233.88 L189.94,232.22 L190.80,230.56 L191.66,228.90 L192.51,227.23 L193.37,225.57 L194.22,223.90 L195.08,222.23 L195.94,220.56 L196.79,218.89 L197.65,217.22 L198.50,215.55 L199.36,213.88 L200.22,212.20 L201.07,210.53 L201.93,208.85 L202.78,207.18 L203.64,205.51 L204.50,203.83 L205.35,202.16 L206.21,200.49 L207.07,198.81 L207.92,197.14 L208.78,195.47 L209.63,193.80 L210.49,192.13 L211.35,190.47 L212.20,188.80 L213.06,187.14 L213.91,185.48 L214.77,183.82 L215.63,182.16 L216.48,180.51 L217.34,178.86 L218.19,177.21 L219.05,175.57 L219.91,173.92 L220.76,172.28 L221.62,170.65 L222.47,169.02 L223.33,167.39 L224.19,165.77 L225.04,164.15 L225.90,162.53 L226.76,160.92 L227.61,159.31 L228.47,157.71 L229.32,156.12 L230.18,154.53 L231.04,152.94 L231.89,151.36 L232.75,149.79 L233.60,148.22 L234.46,146.66 L235.32,145.10 L236.17,143.56 L237.03,142.01 L237.88,140.48 L238.74,138.95 L239.60,137.43 L240.45,135.91 L241.31,134.41 L242.17,132.91 L243.02,131.42 L243.88,129.94 L244.73,128.46 L245.59,126.99 L246.45,125.54 L247.30,124.09 L248.16,122.65 L249.01,121.21 L249.87,119.79 L250.73,118.38 L251.58,116.98 L252.44,115.58 L253.29,114.20 L254.15,112.82 L255.01,111.46 L255.86,110.10 L256.72,108.76 L257.57,107.43 L258.43,106.10 L259.29,104.79 L260.14,103.49 L261.00,102.20 L261.86,100.92 L262.71,99.65 L263.57,98.39 L264.42,97.15 L265.28,95.91 L266.14,94.69 L266.99,93.48 L267.85,92.28 L268.70,91.09 L269.56,89.92 L270.42,88.75 L271.27,87.60 L272.13,86.46 L272.98,85.34 L273.84,84.22 L274.70,83.12 L275.55,82.03 L276.41,80.96 L277.26,79.90 L278.12,78.84 L278.98,77.81 L279.83,76.78 L280.69,75.77 L281.55,74.77 L282.40,73.78 L283.26,72.81 L284.11,71.85 L284.97,70.90 L285.83,69.97 L286.68,69.05 L287.54,68.14 L288.39,67.24 L289.25,66.36 L290.11,65.49 L290.96,64.64 L291.82,63.80 L292.67,62.97 L293.53,62.15 L294.39,61.35 L295.24,60.55 L296.10,59.78 L296.96,59.01 L297.81,58.26 L298.67,57.52 L299.52,56.79 L300.38,56.08 L301.24,55.38 L302.09,54.69 L302.95,54.02 L303.80,53.35 L304.66,52.70 L305.52,52.06 L306.37,51.43 L307.23,50.82 L308.08,50.22 L308.94,49.63 L309.80,49.05 L310.65,48.48 L311.51,47.92 L312.36,47.38 L313.22,46.85 L314.08,46.33 L314.93,45.82 L315.79,45.32 L316.65,44.83 L317.50,44.35 L318.36,43.88 L319.21,43.43 L320.07,42.98 L320.93,42.55 L321.78,42.12 L322.64,41.71 L323.49,41.30 L324.35,40.90 L325.21,40.52 L326.06,40.14 L326.92,39.77 L327.77,39.42 L328.63,39.07 L329.49,38.73 L330.34,38.39 L331.20,38.07 L332.05,37.75 L332.91,37.45 L333.77,37.15 L334.62,36.86 L335.48,36.57 L336.34,36.30 L337.19,36.03 L338.05,35.77 L338.90,35.51 L339.76,35.27 L340.62,35.03 L341.47,34.79 L342.33,34.56 L343.18,34.34 L344.04,34.13 L344.90,33.92 L345.75,33.72 L346.61,33.52 L347.46,33.33 L348.32,33.14 L349.18,32.96 L350.03,32.78 L350.89,32.61 L351.75,32.44 L352.60,32.28 L353.46,32.12 L354.31,31.97 L355.17,31.82 L356.03,31.68 L356.88,31.54 L357.74,31.40 L358.59,31.27 L359.45,31.14 L360.31,31.01 L361.16,30.89 L362.02,30.77 L362.87,30.65 L363.73,30.54 L364.59,30.43 L365.44,30.32 L366.30,30.21 L367.15,30.11 L368.01,30.01 L368.87,29.91 L369.72,29.82 L370.58,29.72 L371.44,29.63 L372.29,29.54 L373.15,29.45 L374.00,29.37 L374.86,29.28 L375.72,29.20 L376.57,29.12 L377.43,29.04 L378.28,28.96 L379.14,28.88 L380.00,28.81 L380.85,28.73 L381.71,28.66 L382.56,28.59 L383.42,28.51 L384.28,28.44 L385.13,28.37 L385.99,28.30 L386.84,28.24 L387.70,28.17 L388.56,28.10 L389.41,28.04 L390.27,27.97 L391.13,27.91 L391.98,27.84 L392.84,27.78 L393.69,27.72 L394.55,27.65 L395.41,27.59 L396.26,27.53 L397.12,27.47 L397.97,27.41 L398.83,27.35 L399.69,27.28 L400.54,27.22 L401.40,27.16 L402.25,27.10 L403.11,27.04 L403.97,26.99 L404.82,26.93 L405.68,26.87 L406.54,26.81 L407.39,26.75 L408.25,26.69 L409.10,26.63 L409.96,26.57 L410.82,26.51 L411.67,26.46 L412.53,26.40 L413.38,26.34 L414.24,26.28 L415.10,26.22 L415.95,26.17 L416.81,26.11 L417.66,26.05 L418.52,25.99 L419.38,25.93 L420.23,25.88 L421.09,25.82 L421.94,25.76 L422.80,25.70 L423.66,25.65 L424.51,25.59 L425.37,25.53 L426.23,25.47 L427.08,25.42 L427.94,25.36 L428.79,25.30 L429.65,25.25 L430.51,25.19 L431.36,25.13 L432.22,25.08 L433.07,25.02 L433.93,24.96 L434.79,24.91 L435.64,24.85 L436.50,24.79 L437.35,24.74 L438.21,24.68 L439.07,24.63 L439.92,24.57 L440.78,24.51 L441.63,24.46 L442.49,24.40 L443.35,24.35 L444.20,24.29 L445.06,24.24 L445.92,24.18 L446.77,24.13 L447.63,24.08 L448.48,24.02 L449.34,23.97 L450.20,23.91 L451.05,23.86 L451.91,23.81 L452.76,23.75 L453.62,23.70 L454.48,23.65 L455.33,23.60 L456.19,23.54 L457.04,23.49 L457.90,23.44 L458.76,23.39 L459.61,23.34 L460.47,23.29 L461.33,23.24 L462.18,23.19 L463.04,23.14 L463.89,23.09 L464.75,23.04 L465.61,22.99 L466.46,22.94 L467.32,22.89 L468.17,22.84 L469.03,22.80 L469.89,22.75 L470.74,22.70 L471.60,22.65 L472.45,22.61 L473.31,22.56 L474.17,22.52 L475.02,22.47 L475.88,22.43 L476.73,22.38 L477.59,22.34 L478.45,22.29 L479.30,22.25 L480.16,22.21 L481.02,22.16 L481.87,22.12 L482.73,22.08 L483.58,22.04 L484.44,22.00 L485.30,21.95 L486.15,21.91 L487.01,21.87 L487.86,21.84 L488.72,21.80 L489.58,21.76 L490.43,21.72 L491.29,21.68 L492.14,21.64 L493.00,21.61 L493.86,21.57 L494.71,21.53 L495.57,21.50 L496.42,21.46 L497.28,21.43 L498.14,21.39 L498.99,21.36 L499.85,21.33 L500.71,21.29 L501.56,21.26 L502.42,21.23 L503.27,21.20 L504.13,21.17 L504.99,21.14 L505.84,21.11 L506.70,21.08 L507.55,21.05 L508.41,21.02 L509.27,20.99 L510.12,20.96 L510.98,20.93 L511.83,20.91 L512.69,20.88 L513.55,20.85 L514.40,20.83 L515.26,20.80 L516.12,20.78 L516.97,20.75 L517.83,20.73 L518.68,20.71 L519.54,20.68 L520.40,20.66 L521.25,20.64 L522.11,20.62 L522.96,20.60 L523.82,20.58 L524.68,20.56 L525.53,20.54 L526.39,20.52 L527.24,20.50 L528.10,20.48 L528.96,20.46 L529.81,20.44 L530.67,20.42 L531.52,20.41 L532.38,20.39 L533.24,20.37 L534.09,20.36 L534.95,20.34 L535.81,20.33 L536.66,20.31 L537.52,20.30 L538.37,20.28 L539.23,20.27 L540.09,20.26 L540.94,20.24 L541.80,20.23 L542.65,20.22 L543.51,20.21 L544.37,20.20 L545.22,20.18 L546.08,20.17 L546.93,20.16 L547.79,20.15 L548.65,20.14 L549.50,20.13 L550.36,20.12 L551.21,20.11 L552.07,20.10 L552.93,20.10 L553.78,20.09 L554.64,20.08 L555.50,20.07 L556.35,20.06 L557.21,20.06 L558.06,20.05 L558.92,20.04 L559.78,20.04 L560.63,20.03 L561.49,20.02 L562.34,20.02 L563.20,20.01 L564.06,20.01 L564.91,20.00 L565.77,20.00 L566.62,19.99 L567.48,19.99 L568.34,19.98 L569.19,19.98 L570.05,19.97 L570.91,19.97 L571.76,19.97 L572.62,19.96 L573.47,19.96 L574.33,19.96 L575.19,19.95 L576.04,19.95 L576.90,19.95 L577.75,19.94 L578.61,19.94 L579.47,19.94 L580.32,19.94 L581.18,19.93 L582.03,19.93 L582.89,19.93 L583.75,19.93 L584.60,19.92 L585.46,19.92 L586.31,19.92 L587.17,19.92 L588.03,19.92 L588.88,19.92 L589.74,19.91 L590.60,19.91 L591.45,19.91 L592.31,19.91 L593.16,19.91 L594.02,19.91 L594.88,19.91 L595.73,19.91 L596.59,19.91 L597.44,19.90 L598.30,19.90" stroke="#d41c1c" stroke-dasharray="6.4,7.5"/></g><path d="M161.20,285.90 L165.30,292.90 L157.10,292.90 Z" fill="#5c0b94"/><path d="M167.40,277.20 L171.50,284.20 L163.30,284.20 Z" fill="#5c0b94"/><path d="M174.20,267.70 L178.30,274.70 L170.10,274.70 Z" fill="#5c0b94"/><path d="M183.40,253.50 L187.50,260.50 L179.30,260.50 Z" fill="#5c0b94"/><path d="M161.20,305.70 L165.80,310.70 L161.20,315.70 L156.60,310.70 Z" fill="#00ff00"/><path d="M167.40,299.80 L172.00,304.80 L167.40,309.80 L162.80,304.80 Z" fill="#00ff00"/><path d="M174.20,290.40 L178.80,295.40 L174.20,300.40 L169.60,295.40 Z" fill="#00ff00"/><path d="M183.40,274.00 L188.00,279.00 L183.40,284.00 L178.80,279.00 Z" fill="#00ff00"/><rect x="157.90" y="247.20" width="6.6" height="6.6" fill="#0000ff"/><rect x="164.10" y="243.00" width="6.6" height="6.6" fill="#0000ff"/><rect x="170.90" y="223.60" width="6.6" height="6.6" fill="#0000ff"/><rect x="180.10" y="213.70" width="6.6" height="6.6" fill="#0000ff"/><circle cx="161.20" cy="283.60" r="4.0" fill="#ff0000"/><circle cx="167.40" cy="279.20" r="4.0" fill="#ff0000"/><circle cx="174.20" cy="263.10" r="4.0" fill="#ff0000"/><circle cx="183.40" cy="240.50" r="4.0" fill="#ff0000"/><path d="M224.70,160.70 L228.80,167.70 L220.60,167.70 Z" fill="#5c0b94"/><path d="M224.70,160.30 V169.70" stroke="#5c0b94" stroke-width="1"/><path d="M230.60,151.40 L234.70,158.40 L226.50,158.40 Z" fill="#5c0b94"/><path d="M230.60,151.00 V160.40" stroke="#5c0b94" stroke-width="1"/><path d="M237.70,138.60 L241.80,145.60 L233.60,145.60 Z" fill="#5c0b94"/><path d="M237.70,138.20 V147.60" stroke="#5c0b94" stroke-width="1"/><path d="M246.60,128.40 L250.70,135.40 L242.50,135.40 Z" fill="#5c0b94"/><path d="M246.60,128.00 V137.40" stroke="#5c0b94" stroke-width="1"/><path d="M224.70,203.30 L229.30,208.30 L224.70,213.30 L220.10,208.30 Z" fill="#00ff00"/><path d="M224.70,202.70 V213.90" stroke="#00ff00" stroke-width="1"/><path d="M230.60,193.70 L235.20,198.70 L230.60,203.70 L226.00,198.70 Z" fill="#00ff00"/><path d="M230.60,193.10 V204.30" stroke="#00ff00" stroke-width="1"/><path d="M237.70,181.30 L242.30,186.30 L237.70,191.30 L233.10,186.30 Z" fill="#00ff00"/><path d="M237.70,180.70 V191.90" stroke="#00ff00" stroke-width="1"/><path d="M246.60,170.00 L251.20,175.00 L246.60,180.00 L242.00,175.00 Z" fill="#00ff00"/><path d="M246.60,169.40 V180.60" stroke="#00ff00" stroke-width="1"/><rect x="221.40" y="128.30" width="6.6" height="6.6" fill="#0000ff"/><path d="M224.70,126.80 V136.40" stroke="#0000ff" stroke-width="1"/><rect x="227.30" y="118.10" width="6.6" height="6.6" fill="#0000ff"/><path d="M230.60,116.60 V126.20" stroke="#0000ff" stroke-width="1"/><rect x="234.40" y="107.60" width="6.6" height="6.6" fill="#0000ff"/><path d="M237.70,106.10 V115.70" stroke="#0000ff" stroke-width="1"/><rect x="243.30" y="100.20" width="6.6" height="6.6" fill="#0000ff"/><path d="M246.60,98.70 V108.30" stroke="#0000ff" stroke-width="1"/><circle cx="224.70" cy="163.60" r="4.0" fill="#ff0000"/><path d="M224.70,158.40 V168.80" stroke="#ff0000" stroke-width="1"/><circle cx="230.60" cy="150.60" r="4.0" fill="#ff0000"/><path d="M230.60,145.40 V155.80" stroke="#ff0000" stroke-width="1"/><circle cx="237.70" cy="136.20" r="4.0" fill="#ff0000"/><path d="M237.70,131.00 V141.40" stroke="#ff0000" stroke-width="1"/><circle cx="246.60" cy="128.30" r="4.0" fill="#ff0000"/><path d="M246.60,123.10 V133.50" stroke="#ff0000" stroke-width="1"/><path d="M255.60,96.90 L259.70,103.90 L251.50,103.90 Z" fill="#5c0b94"/><path d="M255.60,96.26 V106.14" stroke="#5c0b94" stroke-width="1"/><path d="M261.50,87.70 L265.60,94.70 L257.40,94.70 Z" fill="#5c0b94"/><path d="M261.50,87.06 V96.94" stroke="#5c0b94" stroke-width="1"/><path d="M268.30,86.70 L272.40,93.70 L264.20,93.70 Z" fill="#5c0b94"/><path d="M268.30,86.06 V95.94" stroke="#5c0b94" stroke-width="1"/><path d="M276.60,78.40 L280.70,85.40 L272.50,85.40 Z" fill="#5c0b94"/><path d="M276.60,77.76 V87.64" stroke="#5c0b94" stroke-width="1"/><path d="M255.60,143.60 L260.20,148.60 L255.60,153.60 L251.00,148.60 Z" fill="#00ff00"/><path d="M255.60,142.88 V154.32" stroke="#00ff00" stroke-width="1"/><path d="M261.50,126.50 L266.10,131.50 L261.50,136.50 L256.90,131.50 Z" fill="#00ff00"/><path d="M261.50,125.78 V137.22" stroke="#00ff00" stroke-width="1"/><path d="M268.30,115.40 L272.90,120.40 L268.30,125.40 L263.70,120.40 Z" fill="#00ff00"/><path d="M268.30,114.68 V126.12" stroke="#00ff00" stroke-width="1"/><path d="M276.60,101.20 L281.20,106.20 L276.60,111.20 L272.00,106.20 Z" fill="#00ff00"/><path d="M276.60,100.48 V111.92" stroke="#00ff00" stroke-width="1"/><rect x="252.30" y="68.90" width="6.6" height="6.6" fill="#0000ff"/><path d="M255.60,67.10 V77.30" stroke="#0000ff" stroke-width="1"/><rect x="258.20" y="65.00" width="6.6" height="6.6" fill="#0000ff"/><path d="M261.50,63.20 V73.40" stroke="#0000ff" stroke-width="1"/><rect x="265.00" y="60.90" width="6.6" height="6.6" fill="#0000ff"/><path d="M268.30,59.10 V69.30" stroke="#0000ff" stroke-width="1"/><rect x="273.30" y="60.30" width="6.6" height="6.6" fill="#0000ff"/><path d="M276.60,58.50 V68.70" stroke="#0000ff" stroke-width="1"/><circle cx="255.60" cy="94.70" r="4.0" fill="#ff0000"/><path d="M255.60,89.26 V100.14" stroke="#ff0000" stroke-width="1"/><circle cx="261.50" cy="94.70" r="4.0" fill="#ff0000"/><path d="M261.50,89.26 V100.14" stroke="#ff0000" stroke-width="1"/><circle cx="268.30" cy="85.30" r="4.0" fill="#ff0000"/><path d="M268.30,79.86 V90.74" stroke="#ff0000" stroke-width="1"/><circle cx="276.60" cy="74.50" r="4.0" fill="#ff0000"/><path d="M276.60,69.06 V79.94" stroke="#ff0000" stroke-width="1"/><path d="M295.80,60.50 L299.90,67.50 L291.70,67.50 Z" fill="#5c0b94"/><path d="M295.80,60.34 V69.26" stroke="#5c0b94" stroke-width="1"/><path d="M301.60,55.20 L305.70,62.20 L297.50,62.20 Z" fill="#5c0b94"/><path d="M301.60,55.04 V63.96" stroke="#5c0b94" stroke-width="1"/><path d="M308.40,51.90 L312.50,58.90 L304.30,58.90 Z" fill="#5c0b94"/><path d="M308.40,51.74 V60.66" stroke="#5c0b94" stroke-width="1"/><path d="M317.20,49.70 L321.30,56.70 L313.10,56.70 Z" fill="#5c0b94"/><path d="M317.20,49.54 V58.46" stroke="#5c0b94" stroke-width="1"/><path d="M295.80,76.90 L300.40,81.90 L295.80,86.90 L291.20,81.90 Z" fill="#00ff00"/><path d="M295.80,76.42 V87.38" stroke="#00ff00" stroke-width="1"/><path d="M301.60,72.70 L306.20,77.70 L301.60,82.70 L297.00,77.70 Z" fill="#00ff00"/><path d="M301.60,72.22 V83.18" stroke="#00ff00" stroke-width="1"/><path d="M308.40,65.30 L313.00,70.30 L308.40,75.30 L303.80,70.30 Z" fill="#00ff00"/><path d="M308.40,64.82 V75.78" stroke="#00ff00" stroke-width="1"/><path d="M317.20,61.20 L321.80,66.20 L317.20,71.20 L312.60,66.20 Z" fill="#00ff00"/><path d="M317.20,60.72 V71.68" stroke="#00ff00" stroke-width="1"/><rect x="292.50" y="44.90" width="6.6" height="6.6" fill="#0000ff"/><path d="M295.80,43.70 V52.70" stroke="#0000ff" stroke-width="1"/><rect x="298.30" y="43.00" width="6.6" height="6.6" fill="#0000ff"/><path d="M301.60,41.80 V50.80" stroke="#0000ff" stroke-width="1"/><rect x="305.10" y="38.60" width="6.6" height="6.6" fill="#0000ff"/><path d="M308.40,37.40 V46.40" stroke="#0000ff" stroke-width="1"/><rect x="313.90" y="34.70" width="6.6" height="6.6" fill="#0000ff"/><path d="M317.20,33.50 V42.50" stroke="#0000ff" stroke-width="1"/><circle cx="295.80" cy="60.80" r="4.0" fill="#ff0000"/><path d="M295.80,55.84 V65.76" stroke="#ff0000" stroke-width="1"/><circle cx="301.60" cy="57.30" r="4.0" fill="#ff0000"/><path d="M301.60,52.34 V62.26" stroke="#ff0000" stroke-width="1"/><circle cx="308.40" cy="52.50" r="4.0" fill="#ff0000"/><path d="M308.40,47.54 V57.46" stroke="#ff0000" stroke-width="1"/><circle cx="317.20" cy="52.20" r="4.0" fill="#ff0000"/><path d="M317.20,47.24 V57.16" stroke="#ff0000" stroke-width="1"/><path d="M319.30,42.70 L323.40,49.70 L315.20,49.70 Z" fill="#5c0b94"/><path d="M319.30,42.70 V51.30" stroke="#5c0b94" stroke-width="1"/><path d="M325.20,43.70 L329.30,50.70 L321.10,50.70 Z" fill="#5c0b94"/><path d="M325.20,43.70 V52.30" stroke="#5c0b94" stroke-width="1"/><path d="M331.60,38.20 L335.70,45.20 L327.50,45.20 Z" fill="#5c0b94"/><path d="M331.60,38.20 V46.80" stroke="#5c0b94" stroke-width="1"/><path d="M339.60,37.00 L343.70,44.00 L335.50,44.00 Z" fill="#5c0b94"/><path d="M339.60,37.00 V45.60" stroke="#5c0b94" stroke-width="1"/><path d="M319.30,54.20 L323.90,59.20 L319.30,64.20 L314.70,59.20 Z" fill="#00ff00"/><path d="M319.30,53.80 V64.60" stroke="#00ff00" stroke-width="1"/><path d="M325.20,52.80 L329.80,57.80 L325.20,62.80 L320.60,57.80 Z" fill="#00ff00"/><path d="M325.20,52.40 V63.20" stroke="#00ff00" stroke-width="1"/><path d="M331.60,47.50 L336.20,52.50 L331.60,57.50 L327.00,52.50 Z" fill="#00ff00"/><path d="M331.60,47.10 V57.90" stroke="#00ff00" stroke-width="1"/><path d="M339.60,43.40 L344.20,48.40 L339.60,53.40 L335.00,48.40 Z" fill="#00ff00"/><path d="M339.60,43.00 V53.80" stroke="#00ff00" stroke-width="1"/><rect x="316.00" y="34.10" width="6.6" height="6.6" fill="#0000ff"/><path d="M319.30,33.10 V41.70" stroke="#0000ff" stroke-width="1"/><rect x="321.90" y="33.70" width="6.6" height="6.6" fill="#0000ff"/><path d="M325.20,32.70 V41.30" stroke="#0000ff" stroke-width="1"/><rect x="328.30" y="32.30" width="6.6" height="6.6" fill="#0000ff"/><path d="M331.60,31.30 V39.90" stroke="#0000ff" stroke-width="1"/><rect x="336.30" y="32.00" width="6.6" height="6.6" fill="#0000ff"/><path d="M339.60,31.00 V39.60" stroke="#0000ff" stroke-width="1"/><circle cx="319.30" cy="45.00" r="4.0" fill="#ff0000"/><path d="M319.30,40.20 V49.80" stroke="#ff0000" stroke-width="1"/><circle cx="325.20" cy="46.10" r="4.0" fill="#ff0000"/><path d="M325.20,41.30 V50.90" stroke="#ff0000" stroke-width="1"/><circle cx="331.60" cy="40.50" r="4.0" fill="#ff0000"/><path d="M331.60,35.70 V45.30" stroke="#ff0000" stroke-width="1"/><circle cx="339.60" cy="39.30" r="4.0" fill="#ff0000"/><path d="M339.60,34.50 V44.10" stroke="#ff0000" stroke-width="1"/><path d="M361.20,27.70 L365.30,34.70 L357.10,34.70 Z" fill="#5c0b94"/><path d="M361.20,28.10 V35.90" stroke="#5c0b94" stroke-width="1"/><path d="M366.80,27.20 L370.90,34.20 L362.70,34.20 Z" fill="#5c0b94"/><path d="M366.80,27.60 V35.40" stroke="#5c0b94" stroke-width="1"/><path d="M373.10,25.70 L377.20,32.70 L369.00,32.70 Z" fill="#5c0b94"/><path d="M373.10,26.10 V33.90" stroke="#5c0b94" stroke-width="1"/><path d="M381.00,24.70 L385.10,31.70 L376.90,31.70 Z" fill="#5c0b94"/><path d="M381.00,25.10 V32.90" stroke="#5c0b94" stroke-width="1"/><path d="M361.20,31.30 L365.80,36.30 L361.20,41.30 L356.60,36.30 Z" fill="#00ff00"/><path d="M361.20,31.10 V41.50" stroke="#00ff00" stroke-width="1"/><path d="M366.80,30.50 L371.40,35.50 L366.80,40.50 L362.20,35.50 Z" fill="#00ff00"/><path d="M366.80,30.30 V40.70" stroke="#00ff00" stroke-width="1"/><path d="M373.10,29.10 L377.70,34.10 L373.10,39.10 L368.50,34.10 Z" fill="#00ff00"/><path d="M373.10,28.90 V39.30" stroke="#00ff00" stroke-width="1"/><path d="M381.00,27.60 L385.60,32.60 L381.00,37.60 L376.40,32.60 Z" fill="#00ff00"/><path d="M381.00,27.40 V37.80" stroke="#00ff00" stroke-width="1"/><rect x="357.90" y="24.50" width="6.6" height="6.6" fill="#0000ff"/><path d="M361.20,24.00 V31.60" stroke="#0000ff" stroke-width="1"/><rect x="363.50" y="23.50" width="6.6" height="6.6" fill="#0000ff"/><path d="M366.80,23.00 V30.60" stroke="#0000ff" stroke-width="1"/><rect x="369.80" y="23.40" width="6.6" height="6.6" fill="#0000ff"/><path d="M373.10,22.90 V30.50" stroke="#0000ff" stroke-width="1"/><rect x="377.70" y="23.10" width="6.6" height="6.6" fill="#0000ff"/><path d="M381.00,22.60 V30.20" stroke="#0000ff" stroke-width="1"/><circle cx="361.20" cy="31.00" r="4.0" fill="#ff0000"/><path d="M361.20,26.60 V35.40" stroke="#ff0000" stroke-width="1"/><circle cx="366.80" cy="30.50" r="4.0" fill="#ff0000"/><path d="M366.80,26.10 V34.90" stroke="#ff0000" stroke-width="1"/><circle cx="373.10" cy="28.80" r="4.0" fill="#ff0000"/><path d="M373.10,24.40 V33.20" stroke="#ff0000" stroke-width="1"/><circle cx="381.00" cy="27.60" r="4.0" fill="#ff0000"/><path d="M381.00,23.20 V32.00" stroke="#ff0000" stroke-width="1"/><path d="M422.40,20.20 L426.50,27.20 L418.30,27.20 Z" fill="#5c0b94"/><path d="M422.40,20.68 V28.32" stroke="#5c0b94" stroke-width="1"/><path d="M427.50,20.10 L431.60,27.10 L423.40,27.10 Z" fill="#5c0b94"/><path d="M427.50,20.58 V28.22" stroke="#5c0b94" stroke-width="1"/><path d="M432.80,20.00 L436.90,27.00 L428.70,27.00 Z" fill="#5c0b94"/><path d="M432.80,20.48 V28.12" stroke="#5c0b94" stroke-width="1"/><path d="M440.50,19.90 L444.60,26.90 L436.40,26.90 Z" fill="#5c0b94"/><path d="M440.50,20.38 V28.02" stroke="#5c0b94" stroke-width="1"/><path d="M422.40,21.80 L427.00,26.80 L422.40,31.80 L417.80,26.80 Z" fill="#00ff00"/><path d="M422.40,21.64 V31.96" stroke="#00ff00" stroke-width="1"/><path d="M427.50,21.80 L432.10,26.80 L427.50,31.80 L422.90,26.80 Z" fill="#00ff00"/><path d="M427.50,21.64 V31.96" stroke="#00ff00" stroke-width="1"/><path d="M432.80,21.70 L437.40,26.70 L432.80,31.70 L428.20,26.70 Z" fill="#00ff00"/><path d="M432.80,21.54 V31.86" stroke="#00ff00" stroke-width="1"/><path d="M440.50,21.70 L445.10,26.70 L440.50,31.70 L435.90,26.70 Z" fill="#00ff00"/><path d="M440.50,21.54 V31.86" stroke="#00ff00" stroke-width="1"/><rect x="419.10" y="20.70" width="6.6" height="6.6" fill="#0000ff"/><path d="M422.40,20.30 V27.70" stroke="#0000ff" stroke-width="1"/><rect x="424.20" y="20.60" width="6.6" height="6.6" fill="#0000ff"/><path d="M427.50,20.20 V27.60" stroke="#0000ff" stroke-width="1"/><rect x="429.50" y="20.50" width="6.6" height="6.6" fill="#0000ff"/><path d="M432.80,20.10 V27.50" stroke="#0000ff" stroke-width="1"/><rect x="437.20" y="20.40" width="6.6" height="6.6" fill="#0000ff"/><path d="M440.50,20.00 V27.40" stroke="#0000ff" stroke-width="1"/><circle cx="422.40" cy="24.10" r="4.0" fill="#ff0000"/><path d="M422.40,19.78 V28.42" stroke="#ff0000" stroke-width="1"/><circle cx="427.50" cy="24.00" r="4.0" fill="#ff0000"/><path d="M427.50,19.68 V28.32" stroke="#ff0000" stroke-width="1"/><circle cx="432.80" cy="23.90" r="4.0" fill="#ff0000"/><path d="M432.80,19.58 V28.22" stroke="#ff0000" stroke-width="1"/><circle cx="440.50" cy="23.80" r="4.0" fill="#ff0000"/><path d="M440.50,19.48 V28.12" stroke="#ff0000" stroke-width="1"/><path d="M445.00,19.90 L449.10,26.90 L440.90,26.90 Z" fill="#5c0b94"/><path d="M445.00,20.38 V28.02" stroke="#5c0b94" stroke-width="1"/><path d="M450.20,19.80 L454.30,26.80 L446.10,26.80 Z" fill="#5c0b94"/><path d="M450.20,20.28 V27.92" stroke="#5c0b94" stroke-width="1"/><path d="M455.40,19.70 L459.50,26.70 L451.30,26.70 Z" fill="#5c0b94"/><path d="M455.40,20.18 V27.82" stroke="#5c0b94" stroke-width="1"/><path d="M462.60,19.70 L466.70,26.70 L458.50,26.70 Z" fill="#5c0b94"/><path d="M462.60,20.18 V27.82" stroke="#5c0b94" stroke-width="1"/><path d="M445.00,21.60 L449.60,26.60 L445.00,31.60 L440.40,26.60 Z" fill="#00ff00"/><path d="M445.00,21.44 V31.76" stroke="#00ff00" stroke-width="1"/><path d="M450.20,21.60 L454.80,26.60 L450.20,31.60 L445.60,26.60 Z" fill="#00ff00"/><path d="M450.20,21.44 V31.76" stroke="#00ff00" stroke-width="1"/><path d="M455.40,21.50 L460.00,26.50 L455.40,31.50 L450.80,26.50 Z" fill="#00ff00"/><path d="M455.40,21.34 V31.66" stroke="#00ff00" stroke-width="1"/><path d="M462.60,21.50 L467.20,26.50 L462.60,31.50 L458.00,26.50 Z" fill="#00ff00"/><path d="M462.60,21.34 V31.66" stroke="#00ff00" stroke-width="1"/><rect x="441.70" y="20.40" width="6.6" height="6.6" fill="#0000ff"/><path d="M445.00,20.00 V27.40" stroke="#0000ff" stroke-width="1"/><rect x="446.90" y="20.30" width="6.6" height="6.6" fill="#0000ff"/><path d="M450.20,19.90 V27.30" stroke="#0000ff" stroke-width="1"/><rect x="452.10" y="20.20" width="6.6" height="6.6" fill="#0000ff"/><path d="M455.40,19.80 V27.20" stroke="#0000ff" stroke-width="1"/><rect x="459.30" y="20.20" width="6.6" height="6.6" fill="#0000ff"/><path d="M462.60,19.80 V27.20" stroke="#0000ff" stroke-width="1"/><circle cx="445.00" cy="23.80" r="4.0" fill="#ff0000"/><path d="M445.00,19.48 V28.12" stroke="#ff0000" stroke-width="1"/><circle cx="450.20" cy="23.70" r="4.0" fill="#ff0000"/><path d="M450.20,19.38 V28.02" stroke="#ff0000" stroke-width="1"/><circle cx="455.40" cy="23.60" r="4.0" fill="#ff0000"/><path d="M455.40,19.28 V27.92" stroke="#ff0000" stroke-width="1"/><circle cx="462.60" cy="23.60" r="4.0" fill="#ff0000"/><path d="M462.60,19.28 V27.92" stroke="#ff0000" stroke-width="1"/><path d="M541.50,16.00 L545.60,23.00 L537.40,23.00 Z" fill="#5c0b94"/><path d="M541.50,16.16 V24.44" stroke="#5c0b94" stroke-width="1"/><path d="M545.80,16.00 L549.90,23.00 L541.70,23.00 Z" fill="#5c0b94"/><path d="M545.80,16.16 V24.44" stroke="#5c0b94" stroke-width="1"/><path d="M550.70,15.90 L554.80,22.90 L546.60,22.90 Z" fill="#5c0b94"/><path d="M550.70,16.06 V24.34" stroke="#5c0b94" stroke-width="1"/><path d="M557.00,15.90 L561.10,22.90 L552.90,22.90 Z" fill="#5c0b94"/><path d="M557.00,16.06 V24.34" stroke="#5c0b94" stroke-width="1"/><path d="M541.50,15.50 L546.10,20.50 L541.50,25.50 L536.90,20.50 Z" fill="#00ff00"/><path d="M541.50,15.18 V25.82" stroke="#00ff00" stroke-width="1"/><path d="M545.80,15.50 L550.40,20.50 L545.80,25.50 L541.20,20.50 Z" fill="#00ff00"/><path d="M545.80,15.18 V25.82" stroke="#00ff00" stroke-width="1"/><path d="M550.70,15.40 L555.30,20.40 L550.70,25.40 L546.10,20.40 Z" fill="#00ff00"/><path d="M550.70,15.08 V25.72" stroke="#00ff00" stroke-width="1"/><path d="M557.00,15.40 L561.60,20.40 L557.00,25.40 L552.40,20.40 Z" fill="#00ff00"/><path d="M557.00,15.08 V25.72" stroke="#00ff00" stroke-width="1"/><rect x="538.20" y="16.70" width="6.6" height="6.6" fill="#0000ff"/><path d="M541.50,15.90 V24.10" stroke="#0000ff" stroke-width="1"/><rect x="542.50" y="16.70" width="6.6" height="6.6" fill="#0000ff"/><path d="M545.80,15.90 V24.10" stroke="#0000ff" stroke-width="1"/><rect x="547.40" y="16.30" width="6.6" height="6.6" fill="#0000ff"/><path d="M550.70,15.50 V23.70" stroke="#0000ff" stroke-width="1"/><rect x="553.70" y="16.10" width="6.6" height="6.6" fill="#0000ff"/><path d="M557.00,15.30 V23.50" stroke="#0000ff" stroke-width="1"/><circle cx="541.50" cy="20.00" r="4.0" fill="#ff0000"/><path d="M541.50,15.36 V24.64" stroke="#ff0000" stroke-width="1"/><circle cx="545.80" cy="20.00" r="4.0" fill="#ff0000"/><path d="M545.80,15.36 V24.64" stroke="#ff0000" stroke-width="1"/><circle cx="550.70" cy="20.00" r="4.0" fill="#ff0000"/><path d="M550.70,15.36 V24.64" stroke="#ff0000" stroke-width="1"/><circle cx="557.00" cy="20.00" r="4.0" fill="#ff0000"/><path d="M557.00,15.36 V24.64" stroke="#ff0000" stroke-width="1"/><path d="M85.5,1.3 H598.3 V352.2 H85.5 Z M85.5,352.20 h10.0 M598.3,352.20 h-10.0 M85.5,335.49 h5.0 M598.3,335.49 h-5.0 M85.5,318.77 h5.0 M598.3,318.77 h-5.0 M85.5,302.05 h5.0 M598.3,302.05 h-5.0 M85.5,285.34 h10.0 M598.3,285.34 h-10.0 M85.5,268.62 h5.0 M598.3,268.62 h-5.0 M85.5,251.91 h5.0 M598.3,251.91 h-5.0 M85.5,235.19 h5.0 M598.3,235.19 h-5.0 M85.5,218.48 h10.0 M598.3,218.48 h-10.0 M85.5,201.76 h5.0 M598.3,201.76 h-5.0 M85.5,185.05 h5.0 M598.3,185.05 h-5.0 M85.5,168.33 h5.0 M598.3,168.33 h-5.0 M85.5,151.62 h10.0 M598.3,151.62 h-10.0 M85.5,134.90 h5.0 M598.3,134.90 h-5.0 M85.5,118.19 h5.0 M598.3,118.19 h-5.0 M85.5,101.47 h5.0 M598.3,101.47 h-5.0 M85.5,84.76 h10.0 M598.3,84.76 h-10.0 M85.5,68.04 h5.0 M598.3,68.04 h-5.0 M85.5,51.33 h5.0 M598.3,51.33 h-5.0 M85.5,34.61 h5.0 M598.3,34.61 h-5.0 M85.5,17.90 h10.0 M598.3,17.90 h-10.0 M147.81,352.2 v-3.4 M147.81,1.3 v3.4 M184.26,352.2 v-3.4 M184.26,1.3 v3.4 M210.13,352.2 v-3.4 M210.13,1.3 v3.4 M230.19,352.2 v-3.4 M230.19,1.3 v3.4 M246.58,352.2 v-3.4 M246.58,1.3 v3.4 M260.44,352.2 v-3.4 M260.44,1.3 v3.4 M272.44,352.2 v-3.4 M272.44,1.3 v3.4 M283.03,352.2 v-3.4 M283.03,1.3 v3.4 M292.50,352.2 v-7.0 M292.50,1.3 v7.0 M354.81,352.2 v-3.4 M354.81,1.3 v3.4 M391.26,352.2 v-3.4 M391.26,1.3 v3.4 M417.13,352.2 v-3.4 M417.13,1.3 v3.4 M437.19,352.2 v-3.4 M437.19,1.3 v3.4 M453.58,352.2 v-3.4 M453.58,1.3 v3.4 M467.44,352.2 v-3.4 M467.44,1.3 v3.4 M479.44,352.2 v-3.4 M479.44,1.3 v3.4 M490.03,352.2 v-3.4 M490.03,1.3 v3.4 M499.50,352.2 v-7.0 M499.50,1.3 v7.0 M561.81,352.2 v-3.4 M561.81,1.3 v3.4" fill="none" stroke="#000" stroke-width="1.2"/><path d="M47.30,27.00 V11.40 L43.40,14.36" stroke="#000" stroke-width="1.35" fill="none" stroke-linejoin="round"/><text x="58.00" y="27.90" font-family="Liberation Sans, sans-serif" stroke="#fff" paint-order="fill" font-size="24" stroke-width="0.30" text-anchor="middle" fill="#000">.</text><text x="69.90" y="27.90" font-family="Liberation Sans, sans-serif" stroke="#fff" paint-order="fill" font-size="24" stroke-width="0.30" text-anchor="middle" fill="#000">0</text><text x="46.40" y="94.80" font-family="Liberation Sans, sans-serif" stroke="#fff" paint-order="fill" font-size="24" stroke-width="0.30" text-anchor="middle" fill="#000">0</text><text x="58.00" y="94.80" font-family="Liberation Sans, sans-serif" stroke="#fff" paint-order="fill" font-size="24" stroke-width="0.30" text-anchor="middle" fill="#000">.</text><text x="69.90" y="94.80" font-family="Liberation Sans, sans-serif" stroke="#fff" paint-order="fill" font-size="24" stroke-width="0.30" text-anchor="middle" fill="#000">8</text><text x="46.40" y="161.60" font-family="Liberation Sans, sans-serif" stroke="#fff" paint-order="fill" font-size="24" stroke-width="0.30" text-anchor="middle" fill="#000">0</text><text x="58.00" y="161.60" font-family="Liberation Sans, sans-serif" stroke="#fff" paint-order="fill" font-size="24" stroke-width="0.30" text-anchor="middle" fill="#000">.</text><text x="69.90" y="161.60" font-family="Liberation Sans, sans-serif" stroke="#fff" paint-order="fill" font-size="24" stroke-width="0.30" text-anchor="middle" fill="#000">6</text><text x="46.40" y="228.40" font-family="Liberation Sans, sans-serif" stroke="#fff" paint-order="fill" font-size="24" stroke-width="0.30" text-anchor="middle" fill="#000">0</text><text x="58.00" y="228.40" font-family="Liberation Sans, sans-serif" stroke="#fff" paint-order="fill" font-size="24" stroke-width="0.30" text-anchor="middle" fill="#000">.</text><text x="69.90" y="228.40" font-family="Liberation Sans, sans-serif" stroke="#fff" paint-order="fill" font-size="24" stroke-width="0.30" text-anchor="middle" fill="#000">4</text><text x="46.40" y="295.40" font-family="Liberation Sans, sans-serif" stroke="#fff" paint-order="fill" font-size="24" stroke-width="0.30" text-anchor="middle" fill="#000">0</text><text x="58.00" y="295.40" font-family="Liberation Sans, sans-serif" stroke="#fff" paint-order="fill" font-size="24" stroke-width="0.30" text-anchor="middle" fill="#000">.</text><text x="69.90" y="295.40" font-family="Liberation Sans, sans-serif" stroke="#fff" paint-order="fill" font-size="24" stroke-width="0.30" text-anchor="middle" fill="#000">2</text><text x="46.40" y="353.00" font-family="Liberation Sans, sans-serif" stroke="#fff" paint-order="fill" font-size="24" stroke-width="0.30" text-anchor="middle" fill="#000">0</text><text x="58.00" y="353.00" font-family="Liberation Sans, sans-serif" stroke="#fff" paint-order="fill" font-size="24" stroke-width="0.30" text-anchor="middle" fill="#000">.</text><text x="69.90" y="353.00" font-family="Liberation Sans, sans-serif" stroke="#fff" paint-order="fill" font-size="24" stroke-width="0.30" text-anchor="middle" fill="#000">0</text><path d="M77.70,386.90 V370.90 L73.80,373.94" stroke="#000" stroke-width="1.35" fill="none" stroke-linejoin="round"/><text x="92.10" y="387.50" font-family="Liberation Sans, sans-serif" stroke="#fff" paint-order="fill" font-size="24" stroke-width="0.30" text-anchor="middle" fill="#000">0</text><path d="M276.75,386.90 V370.90 L272.85,373.94" stroke="#000" stroke-width="1.35" fill="none" stroke-linejoin="round"/><text x="291.50" y="387.50" font-family="Liberation Sans, sans-serif" stroke="#fff" paint-order="fill" font-size="24" stroke-width="0.30" text-anchor="middle" fill="#000">0</text><text x="307.40" y="387.50" font-family="Liberation Sans, sans-serif" stroke="#fff" paint-order="fill" font-size="24" stroke-width="0.30" text-anchor="middle" fill="#000">0</text><path d="M476.80,386.90 V370.90 L472.90,373.94" stroke="#000" stroke-width="1.35" fill="none" stroke-linejoin="round"/><text x="491.30" y="387.50" font-family="Liberation Sans, sans-serif" stroke="#fff" paint-order="fill" font-size="24" stroke-width="0.30" text-anchor="middle" fill="#000">0</text><text x="506.70" y="387.50" font-family="Liberation Sans, sans-serif" stroke="#fff" paint-order="fill" font-size="24" stroke-width="0.30" text-anchor="middle" fill="#000">0</text><text x="521.30" y="387.50" font-family="Liberation Sans, sans-serif" stroke="#fff" paint-order="fill" font-size="24" stroke-width="0.30" text-anchor="middle" fill="#000">0</text><text transform="translate(18.3,287.70) rotate(-90)" font-family="Liberation Sans, sans-serif" stroke="#fff" paint-order="fill" font-size="24" stroke-width="0.3" text-anchor="middle" fill="#000">D</text><text transform="translate(18.3,273.10) rotate(-90)" font-family="Liberation Sans, sans-serif" stroke="#fff" paint-order="fill" font-size="24" stroke-width="0.3" text-anchor="middle" fill="#000">e</text><text transform="translate(18.3,261.50) rotate(-90)" font-family="Liberation Sans, sans-serif" stroke="#fff" paint-order="fill" font-size="24" stroke-width="0.3" text-anchor="middle" fill="#000">t</text><text transform="translate(18.3,249.80) rotate(-90)" font-family="Liberation Sans, sans-serif" stroke="#fff" paint-order="fill" font-size="24" stroke-width="0.3" text-anchor="middle" fill="#000">e</text><text transform="translate(18.3,236.50) rotate(-90)" font-family="Liberation Sans, sans-serif" stroke="#fff" paint-order="fill" font-size="24" stroke-width="0.3" text-anchor="middle" fill="#000">c</text><text transform="translate(18.3,224.50) rotate(-90)" font-family="Liberation Sans, sans-serif" stroke="#fff" paint-order="fill" font-size="24" stroke-width="0.3" text-anchor="middle" fill="#000">t</text><text transform="translate(18.3,217.00) rotate(-90)" font-family="Liberation Sans, sans-serif" stroke="#fff" paint-order="fill" font-size="24" stroke-width="0.3" text-anchor="middle" fill="#000">i</text><text transform="translate(18.3,207.10) rotate(-90)" font-family="Liberation Sans, sans-serif" stroke="#fff" paint-order="fill" font-size="24" stroke-width="0.3" text-anchor="middle" fill="#000">o</text><text transform="translate(18.3,192.00) rotate(-90)" font-family="Liberation Sans, sans-serif" stroke="#fff" paint-order="fill" font-size="24" stroke-width="0.3" text-anchor="middle" fill="#000">n</text><text transform="translate(18.3,165.00) rotate(-90)" font-family="Liberation Sans, sans-serif" stroke="#fff" paint-order="fill" font-size="24" stroke-width="0.3" text-anchor="middle" fill="#000">E</text><text transform="translate(18.3,153.20) rotate(-90)" font-family="Liberation Sans, sans-serif" stroke="#fff" paint-order="fill" font-size="24" stroke-width="0.3" text-anchor="middle" fill="#000">f</text><text transform="translate(18.3,144.30) rotate(-90)" font-family="Liberation Sans, sans-serif" stroke="#fff" paint-order="fill" font-size="24" stroke-width="0.3" text-anchor="middle" fill="#000">f</text><text transform="translate(18.3,137.10) rotate(-90)" font-family="Liberation Sans, sans-serif" stroke="#fff" paint-order="fill" font-size="24" stroke-width="0.3" text-anchor="middle" fill="#000">i</text><text transform="translate(18.3,127.60) rotate(-90)" font-family="Liberation Sans, sans-serif" stroke="#fff" paint-order="fill" font-size="24" stroke-width="0.3" text-anchor="middle" fill="#000">c</text><text transform="translate(18.3,116.00) rotate(-90)" font-family="Liberation Sans, sans-serif" stroke="#fff" paint-order="fill" font-size="24" stroke-width="0.3" text-anchor="middle" fill="#000">i</text><text transform="translate(18.3,106.00) rotate(-90)" font-family="Liberation Sans, sans-serif" stroke="#fff" paint-order="fill" font-size="24" stroke-width="0.3" text-anchor="middle" fill="#000">e</text><text transform="translate(18.3,92.10) rotate(-90)" font-family="Liberation Sans, sans-serif" stroke="#fff" paint-order="fill" font-size="24" stroke-width="0.3" text-anchor="middle" fill="#000">n</text><text transform="translate(18.3,78.70) rotate(-90)" font-family="Liberation Sans, sans-serif" stroke="#fff" paint-order="fill" font-size="24" stroke-width="0.3" text-anchor="middle" fill="#000">c</text><text transform="translate(18.3,65.30) rotate(-90)" font-family="Liberation Sans, sans-serif" stroke="#fff" paint-order="fill" font-size="24" stroke-width="0.3" text-anchor="middle" fill="#000">y</text><text x="221.70" y="417.3" font-family="Liberation Sans, sans-serif" stroke="#fff" paint-order="fill" font-size="24" stroke-width="0.3" text-anchor="middle" fill="#000">d</text><text x="236.30" y="417.3" font-family="Liberation Sans, sans-serif" stroke="#fff" paint-order="fill" font-size="24" stroke-width="0.3" text-anchor="middle" fill="#000">E</text><text x="267.70" y="417.3" font-family="Liberation Sans, sans-serif" stroke="#fff" paint-order="fill" font-size="24" stroke-width="0.3" text-anchor="middle" fill="#000">d</text><text x="281.35" y="417.3" font-family="Liberation Sans, sans-serif" stroke="#fff" paint-order="fill" font-size="24" stroke-width="0.3" text-anchor="middle" fill="#000">x</text><text x="306.35" y="417.3" font-family="Liberation Sans, sans-serif" stroke="#fff" paint-order="fill" font-size="24" stroke-width="0.3" text-anchor="middle" fill="#000">(</text><text x="321.65" y="417.3" font-family="Liberation Sans, sans-serif" stroke="#fff" paint-order="fill" font-size="24" stroke-width="0.3" text-anchor="middle" fill="#000">M</text><text x="336.65" y="417.3" font-family="Liberation Sans, sans-serif" stroke="#fff" paint-order="fill" font-size="24" stroke-width="0.3" text-anchor="middle" fill="#000">e</text><text x="351.00" y="417.3" font-family="Liberation Sans, sans-serif" stroke="#fff" paint-order="fill" font-size="24" stroke-width="0.3" text-anchor="middle" fill="#000">V</text><text x="377.30" y="417.3" font-family="Liberation Sans, sans-serif" stroke="#fff" paint-order="fill" font-size="24" stroke-width="0.3" text-anchor="middle" fill="#000">c</text><text x="395.05" y="417.3" font-family="Liberation Sans, sans-serif" stroke="#fff" paint-order="fill" font-size="24" stroke-width="0.3" text-anchor="middle" fill="#000">m</text><text x="433.15" y="417.3" font-family="Liberation Sans, sans-serif" stroke="#fff" paint-order="fill" font-size="24" stroke-width="0.3" text-anchor="middle" fill="#000">g</text><text x="462.65" y="417.3" font-family="Liberation Sans, sans-serif" stroke="#fff" paint-order="fill" font-size="24" stroke-width="0.3" text-anchor="middle" fill="#000">)</text><text x="410.65" y="407.4" font-family="Liberation Sans, sans-serif" stroke="#fff" paint-order="fill" font-size="8.5" stroke-width="0" text-anchor="middle" fill="#000">2</text><path d="M442.3,402.8 H447.5" stroke="#000" stroke-width="1"/><path d="M245.6,422.8 L258.4,398.6" stroke="#000" stroke-width="1.35"/><path d="M453.6,406.6 V401.2 L451.6,402.6" stroke="#000" stroke-width="1" fill="none"/><text x="151.8" y="211.9" font-family="Liberation Sans, sans-serif" stroke="#fff" paint-order="fill" font-size="16" stroke-width="0.3" fill="#000">He</text><text x="220.8" y="102.0" font-family="Liberation Sans, sans-serif" stroke="#fff" paint-order="fill" font-size="16" stroke-width="0.3" fill="#000">Li</text><text x="253.7" y="51.6" font-family="Liberation Sans, sans-serif" stroke="#fff" paint-order="fill" font-size="16" stroke-width="0.3" fill="#000">Be</text><text x="296.7" y="31.3" font-family="Liberation Sans, sans-serif" stroke="#fff" paint-order="fill" font-size="16" stroke-width="0.3" fill="#000">B</text><text x="319.0" y="24.4" font-family="Liberation Sans, sans-serif" stroke="#fff" paint-order="fill" font-size="16" stroke-width="0.3" fill="#000">C</text><text x="365.0" y="55.2" font-family="Liberation Sans, sans-serif" stroke="#fff" paint-order="fill" font-size="16" stroke-width="0.3" fill="#000">O</text><text x="421.2" y="49.4" font-family="Liberation Sans, sans-serif" stroke="#fff" paint-order="fill" font-size="16" stroke-width="0.3" fill="#000">Mg</text><text x="451.7" y="48.0" font-family="Liberation Sans, sans-serif" stroke="#fff" paint-order="fill" font-size="16" stroke-width="0.3" fill="#000">Si</text><text x="541.2" y="44.5" font-family="Liberation Sans, sans-serif" stroke="#fff" paint-order="fill" font-size="16" stroke-width="0.3" fill="#000">Fe</text><path d="M334.5,118.3 H390" stroke="#4a0a7a" stroke-width="1.6" stroke-dasharray="1.6,3.3" fill="none"/><path d="M363.30,113.70 L367.40,120.70 L359.20,120.70 Z" fill="#5c0b94"/><path d="M334,151.8 H391" stroke="#10109c" stroke-width="1.3" fill="none"/><rect x="360.20" y="148.30" width="6.6" height="6.6" fill="#0000ff"/><path d="M453.3,118.3 H506" stroke="#2cd02c" stroke-width="1.3" stroke-dasharray="6.4,3.8,1.2,4.1" fill="none"/><path d="M482.00,113.30 L486.60,118.30 L482.00,123.30 L477.40,118.30 Z" fill="#00ff00"/><path d="M453.3,151.7 H508" stroke="#d41c1c" stroke-width="1.3" stroke-dasharray="6.4,7.5" fill="none"/><circle cx="482.20" cy="151.80" r="4.0" fill="#ff0000"/><text transform="translate(400.25,125.50) scale(0.8,1)" font-family="Liberation Sans, sans-serif" stroke="#fff" paint-order="fill" font-size="16.3" stroke-width="0.2" text-anchor="middle" fill="#5c0b94">T</text><text transform="translate(409.00,125.50) scale(0.8,1)" font-family="Liberation Sans, sans-serif" stroke="#fff" paint-order="fill" font-size="16.3" stroke-width="0.2" text-anchor="middle" fill="#5c0b94">E</text><text transform="translate(418.80,125.50) scale(0.8,1)" font-family="Liberation Sans, sans-serif" stroke="#fff" paint-order="fill" font-size="16.3" stroke-width="0.2" text-anchor="middle" fill="#5c0b94">L</text><text x="436.50" y="125.50" font-family="Liberation Sans, sans-serif" stroke="#fff" paint-order="fill" font-size="16.3" stroke-width="0.1" text-anchor="middle" fill="#5c0b94">0</text><text transform="translate(400.25,158.90) scale(0.8,1)" font-family="Liberation Sans, sans-serif" stroke="#fff" paint-order="fill" font-size="16.3" stroke-width="0.2" text-anchor="middle" fill="#1818c8">T</text><text transform="translate(409.00,158.90) scale(0.8,1)" font-family="Liberation Sans, sans-serif" stroke="#fff" paint-order="fill" font-size="16.3" stroke-width="0.2" text-anchor="middle" fill="#1818c8">E</text><text transform="translate(418.80,158.90) scale(0.8,1)" font-family="Liberation Sans, sans-serif" stroke="#fff" paint-order="fill" font-size="16.3" stroke-width="0.2" text-anchor="middle" fill="#1818c8">L</text><path d="M436.90,158.90 V147.30 L433.60,149.50" stroke="#1818c8" stroke-width="1.30" fill="none" stroke-linejoin="round"/><text transform="translate(515.10,125.60) scale(0.8,1)" font-family="Liberation Sans, sans-serif" stroke="#fff" paint-order="fill" font-size="16.3" stroke-width="0.2" text-anchor="middle" fill="#22d022">T</text><text transform="translate(523.85,125.60) scale(0.8,1)" font-family="Liberation Sans, sans-serif" stroke="#fff" paint-order="fill" font-size="16.3" stroke-width="0.2" text-anchor="middle" fill="#22d022">E</text><text transform="translate(533.65,125.60) scale(0.8,1)" font-family="Liberation Sans, sans-serif" stroke="#fff" paint-order="fill" font-size="16.3" stroke-width="0.2" text-anchor="middle" fill="#22d022">L</text><text x="551.35" y="125.60" font-family="Liberation Sans, sans-serif" stroke="#fff" paint-order="fill" font-size="16.3" stroke-width="0.1" text-anchor="middle" fill="#22d022">2</text><text transform="translate(515.10,159.00) scale(0.8,1)" font-family="Liberation Sans, sans-serif" stroke="#fff" paint-order="fill" font-size="16.3" stroke-width="0.2" text-anchor="middle" fill="#d81c1c">T</text><text transform="translate(523.85,159.00) scale(0.8,1)" font-family="Liberation Sans, sans-serif" stroke="#fff" paint-order="fill" font-size="16.3" stroke-width="0.2" text-anchor="middle" fill="#d81c1c">E</text><text transform="translate(533.65,159.00) scale(0.8,1)" font-family="Liberation Sans, sans-serif" stroke="#fff" paint-order="fill" font-size="16.3" stroke-width="0.2" text-anchor="middle" fill="#d81c1c">L</text><text x="551.35" y="159.00" font-family="Liberation Sans, sans-serif" stroke="#fff" paint-order="fill" font-size="16.3" stroke-width="0.1" text-anchor="middle" fill="#d81c1c">3</text><text x="253.5" y="252" font-family="Liberation Sans, sans-serif" stroke="#fff" paint-order="fill" font-size="16" stroke-width="0.15" fill="#000">ϵ</text><text x="267.30" y="261.9" font-family="Liberation Sans, sans-serif" stroke="#fff" paint-order="fill" font-size="17.4" stroke-width="0.15" text-anchor="middle" fill="#000">S</text><text x="278.60" y="261.9" font-family="Liberation Sans, sans-serif" stroke="#fff" paint-order="fill" font-size="17.4" stroke-width="0.15" text-anchor="middle" fill="#000">O</text><text x="289.75" y="261.9" font-family="Liberation Sans, sans-serif" stroke="#fff" paint-order="fill" font-size="17.4" stroke-width="0.15" text-anchor="middle" fill="#000">F</text><text x="298.50" y="261.9" font-family="Liberation Sans, sans-serif" stroke="#fff" paint-order="fill" font-size="17.4" stroke-width="0.15" text-anchor="middle" fill="#000">T</text><path d="M314.70,245.70 H325.00 M314.70,248.70 H325.00" stroke="#000" stroke-width="1.2"/><text x="340.8" y="252.0" font-family="Liberation Sans, sans-serif" stroke="#fff" paint-order="fill" font-size="16.3" stroke-width="0.15" text-anchor="middle" fill="#000">A</text><text x="351.4" y="262.1" font-family="Liberation Sans, sans-serif" stroke="#fff" paint-order="fill" font-size="17.6" stroke-width="0.15" text-anchor="middle" fill="#000">0</text><path d="M367.30,247.30 H377.70" stroke="#000" stroke-width="1.25"/><text x="393.5" y="252.0" font-family="Liberation Sans, sans-serif" stroke="#fff" paint-order="fill" font-size="16.3" stroke-width="0.15" text-anchor="middle" fill="#000">A</text><path d="M404.30,262.10 V250.40 L401.70,252.62" stroke="#000" stroke-width="1.25" fill="none" stroke-linejoin="round"/><path d="M413.85,243.90 L413.85,250.90 M410.82,245.65 L416.88,249.15 M416.88,245.65 L410.82,249.15 " stroke="#000" stroke-width="1.45"/><text x="422.9" y="252.0" font-family="Liberation Sans, sans-serif" stroke="#fff" paint-order="fill" font-size="16.3" stroke-width="0.15" text-anchor="middle" fill="#000">e</text><text x="432.8" y="252.0" font-family="Liberation Sans, sans-serif" stroke="#fff" paint-order="fill" font-size="16.3" stroke-width="0.15" text-anchor="middle" fill="#000">x</text><text x="442.7" y="252.0" font-family="Liberation Sans, sans-serif" stroke="#fff" paint-order="fill" font-size="16.3" stroke-width="0.15" text-anchor="middle" fill="#000">p</text><path d="M453.80,238.30 Q448.40,247.45 453.80,256.60" stroke="#000" stroke-width="1.25" fill="none"/><path d="M458.00,247.30 H468.00" stroke="#000" stroke-width="1.25"/><path d="M475.80,238.30 Q469.70,247.45 475.80,256.60" stroke="#000" stroke-width="1.25" fill="none"/><text x="482.9" y="252.0" font-family="Liberation Sans, sans-serif" stroke="#fff" paint-order="fill" font-size="16.3" stroke-width="0.15" text-anchor="middle" fill="#000">d</text><text x="493.5" y="252.0" font-family="Liberation Sans, sans-serif" stroke="#fff" paint-order="fill" font-size="16.3" stroke-width="0.15" text-anchor="middle" fill="#000">E</text><path d="M499.80,256.10 L509.20,238.30" stroke="#000" stroke-width="1.25"/><text x="515.9" y="252.0" font-family="Liberation Sans, sans-serif" stroke="#fff" paint-order="fill" font-size="16.3" stroke-width="0.15" text-anchor="middle" fill="#000">d</text><text x="525.8" y="252.0" font-family="Liberation Sans, sans-serif" stroke="#fff" paint-order="fill" font-size="16.3" stroke-width="0.15" text-anchor="middle" fill="#000">x</text><path d="M532.50,238.30 Q538.30,247.45 532.50,256.60" stroke="#000" stroke-width="1.25" fill="none"/><path d="M540.50,256.10 L549.10,238.30" stroke="#000" stroke-width="1.25"/><text x="555.4" y="252.0" font-family="Liberation Sans, sans-serif" stroke="#fff" paint-order="fill" font-size="16.3" stroke-width="0.15" text-anchor="middle" fill="#000">A</text><text x="565.9" y="262.1" font-family="Liberation Sans, sans-serif" stroke="#fff" paint-order="fill" font-size="17.6" stroke-width="0.15" text-anchor="middle" fill="#000">2</text><path d="M573.10,238.30 Q578.80,247.45 573.10,256.60" stroke="#000" stroke-width="1.25" fill="none"/><path d="M355.80,274.20 H365.80" stroke="#000" stroke-width="1.25"/><text x="382.2" y="278.9" font-family="Liberation Sans, sans-serif" stroke="#fff" paint-order="fill" font-size="16.3" stroke-width="0.15" text-anchor="middle" fill="#000">A</text><text x="392.8" y="289.0" font-family="Liberation Sans, sans-serif" stroke="#fff" paint-order="fill" font-size="17.6" stroke-width="0.15" text-anchor="middle" fill="#000">3</text><path d="M402.85,270.80 L402.85,277.80 M399.82,272.55 L405.88,276.05 M405.88,272.55 L399.82,276.05 " stroke="#000" stroke-width="1.45"/><text x="411.8" y="278.9" font-family="Liberation Sans, sans-serif" stroke="#fff" paint-order="fill" font-size="16.3" stroke-width="0.15" text-anchor="middle" fill="#000">e</text><text x="421.2" y="278.9" font-family="Liberation Sans, sans-serif" stroke="#fff" paint-order="fill" font-size="16.3" stroke-width="0.15" text-anchor="middle" fill="#000">x</text><text x="431.0" y="278.9" font-family="Liberation Sans, sans-serif" stroke="#fff" paint-order="fill" font-size="16.3" stroke-width="0.15" text-anchor="middle" fill="#000">p</text><path d="M442.50,265.20 Q436.70,274.35 442.50,283.50" stroke="#000" stroke-width="1.25" fill="none"/><path d="M446.70,274.20 H456.70" stroke="#000" stroke-width="1.25"/><path d="M464.50,265.20 Q458.70,274.35 464.50,283.50" stroke="#000" stroke-width="1.25" fill="none"/><text x="471.1" y="278.9" font-family="Liberation Sans, sans-serif" stroke="#fff" paint-order="fill" font-size="16.3" stroke-width="0.15" text-anchor="middle" fill="#000">d</text><text x="482.1" y="278.9" font-family="Liberation Sans, sans-serif" stroke="#fff" paint-order="fill" font-size="16.3" stroke-width="0.15" text-anchor="middle" fill="#000">E</text><path d="M488.80,283.00 L498.20,265.20" stroke="#000" stroke-width="1.25"/><text x="504.1" y="278.9" font-family="Liberation Sans, sans-serif" stroke="#fff" paint-order="fill" font-size="16.3" stroke-width="0.15" text-anchor="middle" fill="#000">d</text><text x="514.5" y="278.9" font-family="Liberation Sans, sans-serif" stroke="#fff" paint-order="fill" font-size="16.3" stroke-width="0.15" text-anchor="middle" fill="#000">x</text><path d="M521.50,265.20 Q527.30,274.35 521.50,283.50" stroke="#000" stroke-width="1.25" fill="none"/><path d="M528.30,283.00 L537.60,265.20" stroke="#000" stroke-width="1.25"/><text x="544.0" y="278.9" font-family="Liberation Sans, sans-serif" stroke="#fff" paint-order="fill" font-size="16.3" stroke-width="0.15" text-anchor="middle" fill="#000">A</text><text x="554.4" y="289.0" font-family="Liberation Sans, sans-serif" stroke="#fff" paint-order="fill" font-size="17.6" stroke-width="0.15" text-anchor="middle" fill="#000">4</text><path d="M561.70,265.20 Q567.60,274.35 561.70,283.50" stroke="#000" stroke-width="1.25" fill="none"/></svg></body></html>
